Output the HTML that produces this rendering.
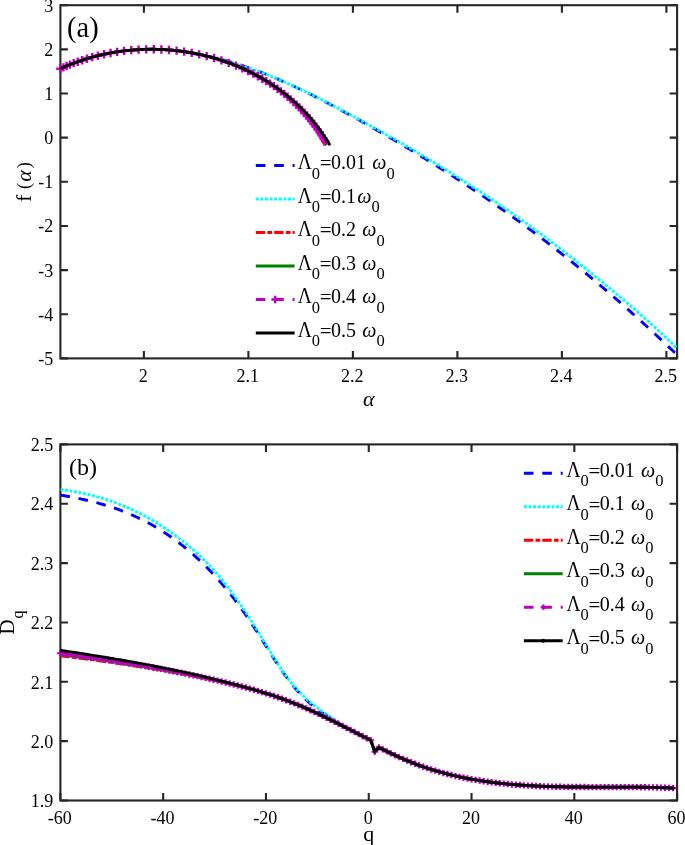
<!DOCTYPE html>
<html><head><meta charset="utf-8"><title>f(alpha) and Dq</title>
<style>html,body{margin:0;padding:0;background:#fff;}svg{display:block;}text{white-space:pre;}</style>
</head><body>
<svg width="685" height="845" viewBox="0 0 685 845">
<rect width="685" height="845" fill="#fff"/>
<defs><clipPath id="ca"><rect x="60.4" y="5.2" width="616.7" height="353.2"/></clipPath>
<clipPath id="ca2"><rect x="185" y="5.2" width="492.1" height="353.2"/></clipPath>
<clipPath id="cb"><rect x="60.4" y="444.4" width="616.7" height="356.1"/></clipPath></defs>
<rect x="60.40" y="5.20" width="616.70" height="353.20" fill="none" stroke="#262626" stroke-width="2.1"/>
<path d="M143.90 358.40v-7.5M143.90 5.20v7.5M248.40 358.40v-7.5M248.40 5.20v7.5M352.90 358.40v-7.5M352.90 5.20v7.5M457.40 358.40v-7.5M457.40 5.20v7.5M561.90 358.40v-7.5M561.90 5.20v7.5M666.40 358.40v-7.5M666.40 5.20v7.5M60.40 5.20h7.5M677.10 5.20h-7.5M60.40 49.35h7.5M677.10 49.35h-7.5M60.40 93.50h7.5M677.10 93.50h-7.5M60.40 137.65h7.5M677.10 137.65h-7.5M60.40 181.80h7.5M677.10 181.80h-7.5M60.40 225.95h7.5M677.10 225.95h-7.5M60.40 270.10h7.5M677.10 270.10h-7.5M60.40 314.25h7.5M677.10 314.25h-7.5M60.40 358.40h7.5M677.10 358.40h-7.5" stroke="#262626" stroke-width="2.1" fill="none"/>

<rect x="60.40" y="444.40" width="616.70" height="356.10" fill="none" stroke="#262626" stroke-width="2.1"/>
<path d="M60.40 800.50v-7.5M60.40 444.40v7.5M163.18 800.50v-7.5M163.18 444.40v7.5M265.97 800.50v-7.5M265.97 444.40v7.5M368.75 800.50v-7.5M368.75 444.40v7.5M471.53 800.50v-7.5M471.53 444.40v7.5M574.32 800.50v-7.5M574.32 444.40v7.5M677.10 800.50v-7.5M677.10 444.40v7.5M60.40 444.40h7.5M677.10 444.40h-7.5M60.40 503.75h7.5M677.10 503.75h-7.5M60.40 563.10h7.5M677.10 563.10h-7.5M60.40 622.45h7.5M677.10 622.45h-7.5M60.40 681.80h7.5M677.10 681.80h-7.5M60.40 741.15h7.5M677.10 741.15h-7.5M60.40 800.50h7.5M677.10 800.50h-7.5" stroke="#262626" stroke-width="2.1" fill="none"/>

<g clip-path="url(#ca2)">
<path d="M60.40 68.65 L62.04 67.91 L63.69 67.19 L65.35 66.48 L67.01 65.79 L68.68 65.12 L70.36 64.46 L72.03 63.81 L73.72 63.18 L75.41 62.57 L77.10 61.97 L78.80 61.39 L80.50 60.82 L82.21 60.27 L83.92 59.74 L85.64 59.21 L87.36 58.71 L89.09 58.22 L90.81 57.74 L92.55 57.28 L94.28 56.83 L96.02 56.40 L97.76 55.98 L99.51 55.58 L101.26 55.19 L103.01 54.81 L104.77 54.45 L106.52 54.11 L108.28 53.77 L110.05 53.46 L111.81 53.15 L113.58 52.87 L115.35 52.59 L117.12 52.33 L118.89 52.08 L120.67 51.85 L122.44 51.63 L124.22 51.42 L126.00 51.23 L127.78 51.05 L129.56 50.89 L131.34 50.74 L133.12 50.60 L134.91 50.48 L136.69 50.36 L138.47 50.27 L140.26 50.18 L142.04 50.11 L143.82 50.05 L145.61 50.00 L147.39 49.97 L149.18 49.95 L150.96 49.95 L152.74 49.95 L154.52 49.97 L156.30 50.00 L158.08 50.04 L159.86 50.10 L161.63 50.17 L163.41 50.25 L165.18 50.34 L166.95 50.45 L168.72 50.57 L170.49 50.70 L172.26 50.84 L174.02 50.99 L175.78 51.16 L177.54 51.34 L179.30 51.53 L181.05 51.73 L182.81 51.94 L184.56 52.17 L186.31 52.40 L188.06 52.65 L189.80 52.90 L191.54 53.17 L193.28 53.45 L195.02 53.74 L196.76 54.04 L198.49 54.36 L200.23 54.68 L201.96 55.01 L203.69 55.35 L205.41 55.71 L207.14 56.07 L208.86 56.44 L210.58 56.83 L212.30 57.22 L214.02 57.62 L215.73 58.04 L217.45 58.46 L219.16 58.89 L220.87 59.33 L222.57 59.78 L224.28 60.24 L225.98 60.71 L227.69 61.18 L229.38 61.67 L231.08 62.17 L232.78 62.67 L234.47 63.18 L236.17 63.70 L237.86 64.23 L239.54 64.77 L241.23 65.31 L242.92 65.86 L244.60 66.43 L246.28 66.99 L247.96 67.57 L249.64 68.16 L251.31 68.75 L252.99 69.35 L254.66 69.95 L256.33 70.57 L258.00 71.19 L259.66 71.82 L261.33 72.45 L262.99 73.09 L264.65 73.74 L266.31 74.40 L267.97 75.06 L269.63 75.73 L271.28 76.41 L272.94 77.09 L274.59 77.77 L276.24 78.47 L277.88 79.17 L279.53 79.87 L281.18 80.58 L282.82 81.30 L284.46 82.02 L286.10 82.75 L287.74 83.48 L289.37 84.22 L291.01 84.97 L292.64 85.72 L294.27 86.47 L295.90 87.23 L297.53 87.99 L299.15 88.76 L300.78 89.53 L302.40 90.31 L304.02 91.09 L305.64 91.88 L307.26 92.67 L308.88 93.46 L310.49 94.26 L312.11 95.06 L313.72 95.87 L315.33 96.68 L316.94 97.49 L318.55 98.31 L320.15 99.13 L321.76 99.96 L323.36 100.78 L324.96 101.61 L326.56 102.45 L328.16 103.28 L329.75 104.12 L331.35 104.96 L332.94 105.81 L334.54 106.65 L336.13 107.50 L337.72 108.36 L339.30 109.21 L340.89 110.07 L342.48 110.92 L344.06 111.78 L345.64 112.65 L347.22 113.51 L348.80 114.38 L350.38 115.24 L351.96 116.11 L353.53 116.98 L355.11 117.85 L356.68 118.72 L358.25 119.60 L359.82 120.47 L361.39 121.35 L362.96 122.22 L364.52 123.10 L366.09 123.98 L367.65 124.86 L369.21 125.74 L370.77 126.62 L372.33 127.51 L373.89 128.39 L375.44 129.28 L377.00 130.16 L378.55 131.05 L380.10 131.94 L381.65 132.83 L383.20 133.73 L384.75 134.62 L386.30 135.51 L387.84 136.41 L389.39 137.31 L390.93 138.21 L392.47 139.10 L394.01 140.01 L395.55 140.91 L397.09 141.81 L398.63 142.72 L400.16 143.62 L401.70 144.53 L403.23 145.44 L404.76 146.35 L406.29 147.26 L407.82 148.18 L409.35 149.09 L410.87 150.01 L412.40 150.93 L413.92 151.85 L415.44 152.77 L416.96 153.69 L418.48 154.61 L420.00 155.54 L421.52 156.47 L423.03 157.39 L424.55 158.32 L426.06 159.25 L427.57 160.19 L429.09 161.12 L430.60 162.06 L432.10 163.00 L433.61 163.93 L435.12 164.88 L436.62 165.82 L438.13 166.76 L439.63 167.71 L441.13 168.65 L442.63 169.60 L444.13 170.55 L445.62 171.50 L447.12 172.46 L448.62 173.41 L450.11 174.37 L451.60 175.33 L453.09 176.29 L454.58 177.25 L456.07 178.22 L457.56 179.18 L459.05 180.15 L460.53 181.12 L462.02 182.09 L463.50 183.06 L464.98 184.04 L466.46 185.01 L467.94 185.99 L469.42 186.97 L470.90 187.95 L472.37 188.93 L473.85 189.92 L475.32 190.91 L476.79 191.89 L478.26 192.89 L479.73 193.88 L481.20 194.87 L482.67 195.87 L484.14 196.87 L485.60 197.87 L487.07 198.87 L488.53 199.87 L489.99 200.88 L491.45 201.89 L492.91 202.90 L494.37 203.91 L495.83 204.92 L497.28 205.94 L498.74 206.96 L500.19 207.98 L501.65 209.00 L503.10 210.02 L504.55 211.05 L506.00 212.08 L507.45 213.11 L508.90 214.14 L510.34 215.17 L511.79 216.21 L513.23 217.25 L514.67 218.29 L516.12 219.33 L517.56 220.38 L519.00 221.42 L520.44 222.47 L521.87 223.52 L523.31 224.58 L524.75 225.63 L526.18 226.69 L527.61 227.75 L529.05 228.81 L530.48 229.87 L531.91 230.94 L533.34 232.01 L534.76 233.08 L536.19 234.15 L537.62 235.23 L539.04 236.30 L540.46 237.38 L541.89 238.46 L543.31 239.55 L544.73 240.63 L546.15 241.72 L547.56 242.81 L548.98 243.90 L550.40 244.99 L551.81 246.09 L553.22 247.19 L554.64 248.29 L556.05 249.39 L557.46 250.49 L558.86 251.60 L560.27 252.70 L561.68 253.81 L563.08 254.92 L564.48 256.03 L565.89 257.15 L567.29 258.27 L568.69 259.38 L570.08 260.50 L571.48 261.63 L572.88 262.75 L574.27 263.88 L575.66 265.00 L577.05 266.13 L578.44 267.26 L579.83 268.39 L581.22 269.53 L582.61 270.67 L583.99 271.80 L585.37 272.94 L586.76 274.08 L588.14 275.23 L589.52 276.37 L590.89 277.52 L592.27 278.66 L593.65 279.81 L595.02 280.97 L596.39 282.12 L597.76 283.27 L599.13 284.43 L600.50 285.59 L601.87 286.74 L603.23 287.90 L604.59 289.07 L605.96 290.23 L607.32 291.40 L608.68 292.56 L610.03 293.73 L611.39 294.90 L612.74 296.07 L614.10 297.24 L615.45 298.42 L616.80 299.59 L618.15 300.77 L619.49 301.95 L620.84 303.13 L622.18 304.31 L623.53 305.49 L624.87 306.67 L626.20 307.86 L627.54 309.04 L628.88 310.23 L630.21 311.42 L631.54 312.61 L632.88 313.80 L634.20 314.99 L635.53 316.19 L636.86 317.38 L638.18 318.58 L639.51 319.78 L640.83 320.97 L642.15 322.17 L643.46 323.38 L644.78 324.58 L646.09 325.78 L647.41 326.99 L648.72 328.19 L650.03 329.40 L651.33 330.61 L652.64 331.82 L653.94 333.03 L655.25 334.24 L656.55 335.45 L657.85 336.66 L659.14 337.88 L660.44 339.09 L661.73 340.31 L663.02 341.53 L664.31 342.74 L665.60 343.96 L666.89 345.18 L668.17 346.40 L669.45 347.63 L670.73 348.85 L672.01 350.07 L673.29 351.30 L674.57 352.52 L675.84 353.75 L677.11 354.98" fill="none" stroke="#0000ff" stroke-width="2.90" stroke-dasharray="9.6 8.8" stroke-linejoin="miter" stroke-linecap="butt"/>

<path d="M60.38 68.65 L62.04 67.91 L63.69 67.19 L65.35 66.48 L67.02 65.79 L68.69 65.11 L70.36 64.45 L72.04 63.80 L73.73 63.17 L75.42 62.56 L77.11 61.96 L78.80 61.38 L80.50 60.81 L82.21 60.26 L83.92 59.72 L85.63 59.20 L87.34 58.69 L89.06 58.20 L90.78 57.72 L92.51 57.26 L94.24 56.81 L95.97 56.38 L97.70 55.96 L99.44 55.56 L101.18 55.17 L102.92 54.80 L104.66 54.44 L106.41 54.10 L108.16 53.76 L109.91 53.45 L111.66 53.15 L113.41 52.86 L115.17 52.58 L116.93 52.32 L118.69 52.08 L120.45 51.85 L122.21 51.63 L123.97 51.42 L125.74 51.23 L127.50 51.06 L129.27 50.89 L131.03 50.74 L132.80 50.60 L134.57 50.48 L136.33 50.37 L138.10 50.27 L139.87 50.19 L141.64 50.12 L143.41 50.06 L145.17 50.01 L146.94 49.98 L148.71 49.96 L150.47 49.95 L152.24 49.96 L154.01 49.98 L155.77 50.01 L157.53 50.05 L159.30 50.11 L161.06 50.17 L162.82 50.25 L164.57 50.35 L166.33 50.45 L168.09 50.57 L169.84 50.69 L171.59 50.83 L173.34 50.99 L175.09 51.15 L176.83 51.32 L178.58 51.51 L180.32 51.71 L182.06 51.92 L183.80 52.14 L185.53 52.37 L187.27 52.61 L189.00 52.87 L190.73 53.13 L192.46 53.41 L194.19 53.69 L195.91 53.99 L197.64 54.29 L199.36 54.61 L201.08 54.94 L202.80 55.28 L204.51 55.62 L206.23 55.98 L207.94 56.35 L209.65 56.72 L211.36 57.11 L213.07 57.51 L214.77 57.91 L216.48 58.33 L218.18 58.75 L219.88 59.18 L221.58 59.63 L223.28 60.08 L224.97 60.54 L226.66 61.01 L228.36 61.48 L230.05 61.97 L231.73 62.46 L233.42 62.97 L235.11 63.48 L236.79 64.00 L238.47 64.53 L240.15 65.06 L241.83 65.60 L243.51 66.16 L245.18 66.71 L246.85 67.28 L248.52 67.85 L250.19 68.44 L251.86 69.02 L253.53 69.62 L255.19 70.22 L256.86 70.83 L258.52 71.45 L260.18 72.07 L261.84 72.70 L263.49 73.34 L265.15 73.98 L266.80 74.63 L268.45 75.29 L270.10 75.95 L271.75 76.62 L273.40 77.30 L275.05 77.98 L276.69 78.66 L278.33 79.35 L279.97 80.05 L281.61 80.76 L283.25 81.46 L284.89 82.18 L286.52 82.90 L288.15 83.62 L289.79 84.35 L291.42 85.09 L293.04 85.83 L294.67 86.57 L296.30 87.32 L297.92 88.07 L299.54 88.83 L301.16 89.59 L302.78 90.36 L304.40 91.13 L306.02 91.90 L307.63 92.68 L309.25 93.47 L310.86 94.25 L312.47 95.04 L314.08 95.84 L315.69 96.63 L317.29 97.43 L318.90 98.24 L320.50 99.04 L322.10 99.85 L323.70 100.67 L325.30 101.48 L326.90 102.30 L328.50 103.12 L330.09 103.95 L331.69 104.77 L333.28 105.60 L334.87 106.44 L336.46 107.27 L338.05 108.10 L339.63 108.94 L341.22 109.78 L342.80 110.62 L344.39 111.47 L345.97 112.31 L347.55 113.16 L349.13 114.01 L350.70 114.86 L352.28 115.71 L353.86 116.56 L355.43 117.41 L357.00 118.27 L358.57 119.12 L360.14 119.98 L361.71 120.83 L363.28 121.69 L364.84 122.55 L366.41 123.41 L367.97 124.27 L369.53 125.13 L371.09 125.99 L372.65 126.86 L374.21 127.72 L375.77 128.59 L377.32 129.45 L378.87 130.32 L380.43 131.19 L381.98 132.06 L383.53 132.93 L385.08 133.80 L386.63 134.68 L388.17 135.55 L389.72 136.43 L391.26 137.30 L392.80 138.18 L394.35 139.06 L395.89 139.94 L397.42 140.82 L398.96 141.71 L400.50 142.59 L402.03 143.48 L403.57 144.36 L405.10 145.25 L406.63 146.14 L408.16 147.03 L409.69 147.92 L411.22 148.82 L412.74 149.71 L414.27 150.61 L415.79 151.51 L417.32 152.40 L418.84 153.30 L420.36 154.21 L421.88 155.11 L423.40 156.01 L424.91 156.92 L426.43 157.83 L427.94 158.74 L429.46 159.65 L430.97 160.56 L432.48 161.47 L433.99 162.39 L435.50 163.30 L437.00 164.22 L438.51 165.14 L440.01 166.06 L441.52 166.99 L443.02 167.91 L444.52 168.84 L446.02 169.76 L447.52 170.69 L449.02 171.62 L450.51 172.56 L452.01 173.49 L453.50 174.43 L455.00 175.36 L456.49 176.30 L457.98 177.24 L459.47 178.19 L460.96 179.13 L462.44 180.08 L463.93 181.03 L465.42 181.98 L466.90 182.93 L468.38 183.88 L469.86 184.84 L471.34 185.79 L472.82 186.75 L474.30 187.71 L475.78 188.68 L477.25 189.64 L478.73 190.61 L480.20 191.58 L481.67 192.55 L483.14 193.52 L484.61 194.49 L486.08 195.47 L487.55 196.45 L489.02 197.43 L490.48 198.41 L491.95 199.39 L493.41 200.38 L494.87 201.37 L496.33 202.36 L497.79 203.35 L499.25 204.34 L500.71 205.34 L502.17 206.34 L503.62 207.34 L505.08 208.34 L506.53 209.35 L507.98 210.35 L509.44 211.36 L510.89 212.37 L512.33 213.39 L513.78 214.40 L515.23 215.42 L516.67 216.44 L518.12 217.46 L519.56 218.49 L521.01 219.51 L522.45 220.54 L523.89 221.57 L525.33 222.61 L526.77 223.64 L528.20 224.68 L529.64 225.72 L531.07 226.77 L532.51 227.81 L533.94 228.86 L535.37 229.91 L536.80 230.96 L538.23 232.01 L539.66 233.07 L541.09 234.13 L542.52 235.19 L543.94 236.25 L545.37 237.31 L546.79 238.38 L548.21 239.45 L549.63 240.52 L551.05 241.59 L552.47 242.66 L553.89 243.74 L555.30 244.82 L556.72 245.90 L558.13 246.98 L559.55 248.06 L560.96 249.15 L562.37 250.24 L563.78 251.33 L565.19 252.42 L566.59 253.51 L568.00 254.60 L569.41 255.70 L570.81 256.80 L572.21 257.90 L573.61 259.00 L575.01 260.10 L576.41 261.21 L577.81 262.31 L579.21 263.42 L580.60 264.53 L582.00 265.64 L583.39 266.75 L584.78 267.86 L586.17 268.98 L587.56 270.10 L588.95 271.21 L590.34 272.33 L591.72 273.45 L593.11 274.57 L594.49 275.70 L595.87 276.82 L597.25 277.95 L598.63 279.08 L600.01 280.20 L601.39 281.33 L602.76 282.46 L604.14 283.60 L605.51 284.73 L606.88 285.86 L608.25 287.00 L609.62 288.14 L610.99 289.27 L612.36 290.41 L613.72 291.55 L615.09 292.69 L616.45 293.84 L617.81 294.98 L619.17 296.12 L620.53 297.27 L621.89 298.42 L623.24 299.57 L624.60 300.72 L625.95 301.87 L627.30 303.02 L628.65 304.18 L629.99 305.33 L631.34 306.49 L632.68 307.65 L634.02 308.81 L635.36 309.97 L636.70 311.14 L638.04 312.30 L639.37 313.47 L640.70 314.64 L642.03 315.81 L643.36 316.99 L644.69 318.16 L646.01 319.34 L647.34 320.51 L648.66 321.69 L649.97 322.88 L651.29 324.06 L652.60 325.25 L653.91 326.43 L655.22 327.62 L656.53 328.82 L657.83 330.01 L659.14 331.21 L660.44 332.40 L661.73 333.60 L663.03 334.81 L664.32 336.01 L665.61 337.22 L666.90 338.43 L668.18 339.64 L669.47 340.85 L670.75 342.07 L672.02 343.29 L673.30 344.51 L674.57 345.73 L675.84 346.96 L677.11 348.18" fill="none" stroke="#00ffff" stroke-width="2.90" stroke-dasharray="3 1.6" stroke-linejoin="miter" stroke-linecap="butt"/>

</g>
<path d="M60.42 68.68 L61.12 68.36 L61.82 68.04 L62.52 67.73 L63.23 67.42 L63.94 67.11 L64.64 66.81 L65.35 66.50 L66.06 66.20 L66.77 65.90 L67.48 65.61 L68.20 65.32 L68.91 65.03 L69.62 64.74 L70.34 64.46 L71.06 64.18 L71.77 63.90 L72.49 63.62 L73.21 63.35 L73.93 63.08 L74.65 62.81 L75.38 62.54 L76.10 62.28 L76.82 62.02 L77.55 61.76 L78.28 61.51 L79.00 61.25 L79.73 61.00 L80.46 60.76 L81.19 60.51 L81.92 60.27 L82.65 60.03 L83.38 59.80 L84.11 59.56 L84.85 59.33 L85.58 59.10 L86.32 58.88 L87.05 58.65 L87.79 58.43 L88.53 58.21 L89.26 58.00 L90.00 57.79 L90.74 57.58 L91.48 57.37 L92.22 57.17 L92.97 56.96 L93.71 56.76 L94.45 56.57 L95.20 56.37 L95.94 56.18 L96.69 55.99 L97.43 55.81 L98.18 55.62 L98.92 55.44 L99.67 55.26 L100.42 55.09 L101.17 54.92 L101.92 54.75 L102.67 54.58 L103.42 54.41 L104.17 54.25 L104.92 54.09 L105.67 53.93 L106.43 53.78 L107.18 53.63 L107.93 53.48 L108.69 53.33 L109.44 53.19 L110.20 53.05 L110.96 52.91 L111.71 52.77 L112.47 52.64 L113.23 52.51 L113.98 52.38 L114.74 52.25 L115.50 52.13 L116.26 52.01 L117.02 51.89 L117.78 51.78 L118.54 51.66 L119.30 51.55 L120.06 51.45 L120.82 51.34 L121.58 51.24 L122.34 51.14 L123.11 51.04 L123.87 50.95 L124.63 50.86 L125.39 50.77 L126.16 50.68 L126.92 50.60 L127.69 50.51 L128.45 50.44 L129.21 50.36 L129.98 50.29 L130.74 50.22 L131.51 50.15 L132.27 50.08 L133.04 50.02 L133.81 49.96 L134.57 49.90 L135.34 49.84 L136.10 49.79 L136.87 49.74 L137.64 49.69 L138.41 49.65 L139.17 49.61 L139.94 49.57 L140.71 49.53 L141.47 49.50 L142.24 49.46 L143.01 49.43 L143.78 49.41 L144.54 49.38 L145.31 49.36 L146.08 49.34 L146.85 49.33 L147.61 49.31 L148.38 49.30 L149.15 49.29 L149.92 49.29 L150.69 49.28 L151.45 49.28 L152.22 49.28 L152.99 49.29 L153.76 49.29 L154.52 49.30 L155.29 49.31 L156.06 49.33 L156.83 49.35 L157.59 49.37 L158.36 49.39 L159.13 49.41 L159.90 49.44 L160.66 49.47 L161.43 49.50 L162.20 49.54 L162.96 49.57 L163.73 49.61 L164.50 49.66 L165.26 49.70 L166.03 49.75 L166.79 49.80 L167.56 49.85 L168.32 49.91 L169.09 49.97 L169.85 50.03 L170.62 50.09 L171.38 50.16 L172.14 50.22 L172.91 50.30 L173.67 50.37 L174.43 50.44 L175.20 50.52 L175.96 50.60 L176.72 50.69 L177.48 50.77 L178.24 50.86 L179.01 50.95 L179.77 51.05 L180.53 51.14 L181.29 51.24 L182.05 51.34 L182.80 51.45 L183.56 51.55 L184.32 51.66 L185.08 51.77 L185.84 51.89 L186.59 52.01 L187.35 52.12 L188.11 52.25 L188.86 52.37 L189.62 52.50 L190.37 52.63 L191.13 52.76 L191.88 52.89 L192.63 53.03 L193.38 53.17 L194.14 53.31 L194.89 53.46 L195.64 53.60 L196.39 53.75 L197.14 53.90 L197.89 54.06 L198.64 54.22 L199.38 54.38 L200.13 54.54 L200.88 54.70 L201.62 54.87 L202.37 55.04 L203.11 55.21 L203.86 55.39 L204.60 55.56 L205.34 55.74 L206.09 55.93 L206.83 56.11 L207.57 56.30 L208.31 56.49 L209.05 56.68 L209.79 56.88 L210.52 57.07 L211.26 57.27 L212.00 57.48 L212.73 57.68 L213.47 57.89 L214.20 58.10 L214.93 58.31 L215.67 58.53 L216.40 58.74 L217.13 58.96 L217.86 59.19 L218.59 59.41 L219.31 59.64 L220.04 59.87 L220.77 60.10 L221.49 60.34 L222.22 60.57 L222.94 60.81 L223.66 61.06 L224.39 61.30 L225.11 61.55 L225.83 61.80 L226.55 62.05 L227.26 62.31 L227.98 62.57 L228.70 62.83 L229.41 63.09 L230.13 63.35 L230.84 63.62 L231.55 63.89 L232.26 64.16 L232.97 64.44 L233.68 64.71 L234.39 64.99 L235.09 65.28 L235.80 65.56 L236.51 65.85 L237.21 66.14 L237.91 66.43 L238.61 66.73 L239.31 67.02 L240.01 67.32 L240.70 67.63 L241.39 67.93 L242.08 68.24 L242.76 68.55 L243.45 68.86 L244.13 69.17 L244.81 69.49 L245.49 69.81 L246.17 70.13 L246.84 70.46 L247.51 70.78 L248.18 71.11 L248.85 71.45 L249.52 71.78 L250.19 72.12 L250.85 72.46 L251.52 72.80 L252.18 73.14 L252.84 73.49 L253.49 73.84 L254.15 74.19 L254.80 74.54 L255.45 74.90 L256.10 75.26 L256.75 75.62 L257.40 75.98 L258.05 76.35 L258.69 76.72 L259.33 77.09 L259.97 77.46 L260.61 77.84 L261.25 78.22 L261.88 78.60 L262.51 78.98 L263.15 79.37 L263.78 79.76 L264.40 80.15 L265.03 80.54 L265.65 80.94 L266.28 81.34 L266.90 81.74 L267.51 82.14 L268.13 82.55 L268.75 82.95 L269.36 83.36 L269.97 83.78 L270.58 84.19 L271.19 84.61 L271.80 85.03 L272.40 85.45 L273.00 85.88 L273.60 86.31 L274.20 86.74 L274.80 87.17 L275.39 87.60 L275.98 88.04 L276.58 88.48 L277.16 88.92 L277.75 89.37 L278.34 89.81 L278.92 90.26 L279.50 90.71 L280.08 91.17 L280.66 91.62 L281.23 92.08 L281.81 92.55 L282.38 93.01 L282.95 93.48 L283.51 93.94 L284.08 94.42 L284.64 94.89 L285.20 95.36 L285.76 95.84 L286.32 96.32 L286.88 96.81 L287.43 97.29 L287.98 97.78 L288.53 98.27 L289.08 98.76 L289.62 99.26 L290.16 99.76 L290.71 100.26 L291.24 100.76 L291.78 101.26 L292.32 101.77 L292.85 102.28 L293.38 102.79 L293.91 103.31 L294.43 103.83 L294.95 104.35 L295.48 104.87 L296.00 105.39 L296.51 105.92 L297.03 106.45 L297.54 106.98 L298.05 107.51 L298.56 108.05 L299.06 108.59 L299.57 109.13 L300.07 109.67 L300.57 110.22 L301.07 110.76 L301.56 111.32 L302.05 111.87 L302.54 112.42 L303.03 112.98 L303.52 113.54 L304.00 114.10 L304.48 114.67 L304.96 115.24 L305.44 115.81 L305.91 116.38 L306.38 116.95 L306.85 117.53 L307.32 118.11 L307.78 118.69 L308.24 119.27 L308.70 119.86 L309.16 120.45 L309.62 121.04 L310.07 121.63 L310.52 122.23 L310.96 122.83 L311.41 123.43 L311.85 124.03 L312.29 124.64 L312.73 125.24 L313.16 125.85 L313.60 126.47 L314.03 127.08 L314.46 127.70 L314.88 128.32 L315.30 128.94 L315.72 129.56 L316.14 130.19 L316.55 130.82 L316.97 131.45 L317.38 132.08 L317.78 132.72 L318.19 133.36 L318.59 134.00 L318.99 134.64 L319.39 135.29 L319.78 135.94 L320.17 136.59 L320.56 137.24 L320.95 137.89 L321.33 138.55 L321.71 139.21 L322.09 139.87 L322.46 140.54 L322.84 141.20 L323.21 141.87 L323.57 142.54 L323.94 143.22 L324.30 143.89 L324.66 144.57 L325.02 145.25" fill="none" stroke="#ff0000" stroke-width="2.90" stroke-dasharray="9.4 2.2 4.8 2.0" stroke-linejoin="miter" stroke-linecap="butt"/>

<path d="M60.42 68.68 L61.12 68.36 L61.82 68.04 L62.52 67.73 L63.23 67.42 L63.94 67.11 L64.64 66.81 L65.35 66.50 L66.06 66.20 L66.77 65.90 L67.48 65.61 L68.20 65.32 L68.91 65.03 L69.62 64.74 L70.34 64.46 L71.06 64.18 L71.77 63.90 L72.49 63.62 L73.21 63.35 L73.93 63.08 L74.65 62.81 L75.38 62.54 L76.10 62.28 L76.82 62.02 L77.55 61.76 L78.28 61.51 L79.00 61.25 L79.73 61.00 L80.46 60.76 L81.19 60.51 L81.92 60.27 L82.65 60.03 L83.38 59.80 L84.11 59.56 L84.85 59.33 L85.58 59.10 L86.32 58.88 L87.05 58.65 L87.79 58.43 L88.53 58.21 L89.26 58.00 L90.00 57.79 L90.74 57.58 L91.48 57.37 L92.22 57.17 L92.97 56.96 L93.71 56.76 L94.45 56.57 L95.20 56.37 L95.94 56.18 L96.69 55.99 L97.43 55.81 L98.18 55.62 L98.92 55.44 L99.67 55.26 L100.42 55.09 L101.17 54.92 L101.92 54.75 L102.67 54.58 L103.42 54.41 L104.17 54.25 L104.92 54.09 L105.67 53.93 L106.43 53.78 L107.18 53.63 L107.93 53.48 L108.69 53.33 L109.44 53.19 L110.20 53.05 L110.96 52.91 L111.71 52.77 L112.47 52.64 L113.23 52.51 L113.98 52.38 L114.74 52.25 L115.50 52.13 L116.26 52.01 L117.02 51.89 L117.78 51.78 L118.54 51.66 L119.30 51.55 L120.06 51.45 L120.82 51.34 L121.58 51.24 L122.34 51.14 L123.11 51.04 L123.87 50.95 L124.63 50.86 L125.39 50.77 L126.16 50.68 L126.92 50.60 L127.69 50.51 L128.45 50.44 L129.21 50.36 L129.98 50.29 L130.74 50.22 L131.51 50.15 L132.27 50.08 L133.04 50.02 L133.81 49.96 L134.57 49.90 L135.34 49.84 L136.10 49.79 L136.87 49.74 L137.64 49.69 L138.41 49.65 L139.17 49.61 L139.94 49.57 L140.71 49.53 L141.47 49.50 L142.24 49.46 L143.01 49.43 L143.78 49.41 L144.54 49.38 L145.31 49.36 L146.08 49.34 L146.85 49.33 L147.61 49.31 L148.38 49.30 L149.15 49.29 L149.92 49.29 L150.69 49.28 L151.45 49.28 L152.22 49.28 L152.99 49.29 L153.76 49.29 L154.52 49.30 L155.29 49.31 L156.06 49.33 L156.83 49.35 L157.59 49.37 L158.36 49.39 L159.13 49.41 L159.90 49.44 L160.66 49.47 L161.43 49.50 L162.20 49.54 L162.96 49.57 L163.73 49.61 L164.50 49.66 L165.26 49.70 L166.03 49.75 L166.79 49.80 L167.56 49.85 L168.32 49.91 L169.09 49.97 L169.85 50.03 L170.62 50.09 L171.38 50.16 L172.14 50.22 L172.91 50.30 L173.67 50.37 L174.43 50.44 L175.20 50.52 L175.96 50.60 L176.72 50.69 L177.48 50.77 L178.24 50.86 L179.01 50.95 L179.77 51.05 L180.53 51.14 L181.29 51.24 L182.05 51.34 L182.80 51.45 L183.56 51.55 L184.32 51.66 L185.08 51.77 L185.84 51.89 L186.59 52.01 L187.35 52.12 L188.11 52.25 L188.86 52.37 L189.62 52.50 L190.37 52.63 L191.13 52.76 L191.88 52.89 L192.63 53.03 L193.38 53.17 L194.14 53.31 L194.89 53.46 L195.64 53.60 L196.39 53.75 L197.14 53.90 L197.89 54.06 L198.64 54.22 L199.38 54.38 L200.13 54.54 L200.88 54.70 L201.62 54.87 L202.37 55.04 L203.11 55.21 L203.86 55.39 L204.60 55.56 L205.34 55.74 L206.09 55.93 L206.83 56.11 L207.57 56.30 L208.31 56.49 L209.05 56.68 L209.79 56.88 L210.52 57.07 L211.26 57.27 L212.00 57.48 L212.73 57.68 L213.47 57.89 L214.20 58.10 L214.93 58.31 L215.67 58.53 L216.40 58.74 L217.13 58.96 L217.86 59.19 L218.59 59.41 L219.31 59.64 L220.04 59.87 L220.77 60.10 L221.49 60.34 L222.22 60.57 L222.94 60.81 L223.66 61.06 L224.39 61.30 L225.11 61.55 L225.83 61.80 L226.55 62.05 L227.26 62.31 L227.98 62.57 L228.70 62.83 L229.41 63.09 L230.13 63.35 L230.84 63.62 L231.55 63.89 L232.26 64.16 L232.97 64.44 L233.68 64.71 L234.39 64.99 L235.09 65.28 L235.80 65.56 L236.51 65.85 L237.21 66.14 L237.91 66.43 L238.61 66.73 L239.31 67.02 L240.01 67.32 L240.70 67.63 L241.39 67.93 L242.08 68.24 L242.77 68.55 L243.46 68.86 L244.15 69.17 L244.83 69.49 L245.51 69.81 L246.19 70.13 L246.87 70.46 L247.55 70.78 L248.22 71.11 L248.90 71.45 L249.57 71.78 L250.24 72.12 L250.91 72.46 L251.57 72.80 L252.24 73.14 L252.90 73.49 L253.57 73.84 L254.23 74.19 L254.89 74.54 L255.55 74.90 L256.20 75.26 L256.86 75.62 L257.51 75.98 L258.16 76.35 L258.81 76.72 L259.46 77.09 L260.10 77.46 L260.75 77.84 L261.39 78.22 L262.03 78.60 L262.67 78.98 L263.31 79.37 L263.95 79.76 L264.58 80.15 L265.21 80.54 L265.85 80.94 L266.48 81.34 L267.10 81.74 L267.73 82.14 L268.35 82.55 L268.98 82.95 L269.60 83.36 L270.22 83.78 L270.83 84.19 L271.45 84.61 L272.06 85.03 L272.67 85.45 L273.29 85.88 L273.89 86.31 L274.50 86.74 L275.11 87.17 L275.71 87.60 L276.31 88.04 L276.91 88.48 L277.51 88.92 L278.10 89.37 L278.70 89.81 L279.29 90.26 L279.88 90.71 L280.47 91.17 L281.05 91.62 L281.64 92.08 L282.22 92.55 L282.80 93.01 L283.38 93.48 L283.96 93.94 L284.53 94.42 L285.10 94.89 L285.67 95.36 L286.24 95.84 L286.81 96.32 L287.38 96.81 L287.94 97.29 L288.50 97.78 L289.06 98.27 L289.62 98.76 L290.17 99.26 L290.72 99.76 L291.27 100.26 L291.82 100.76 L292.37 101.26 L292.91 101.77 L293.46 102.28 L294.00 102.79 L294.54 103.31 L295.07 103.83 L295.61 104.35 L296.14 104.87 L296.67 105.39 L297.20 105.92 L297.72 106.45 L298.25 106.98 L298.77 107.51 L299.29 108.05 L299.80 108.59 L300.32 109.13 L300.83 109.67 L301.34 110.22 L301.85 110.76 L302.36 111.32 L302.86 111.87 L303.36 112.42 L303.86 112.98 L304.36 113.54 L304.85 114.10 L305.35 114.67 L305.84 115.24 L306.32 115.81 L306.81 116.38 L307.29 116.95 L307.78 117.53 L308.25 118.11 L308.73 118.69 L309.20 119.27 L309.68 119.86 L310.15 120.45 L310.61 121.04 L311.08 121.63 L311.54 122.23 L312.00 122.83 L312.46 123.43 L312.91 124.03 L313.36 124.64 L313.81 125.24 L314.26 125.85 L314.71 126.47 L315.15 127.08 L315.59 127.70 L316.03 128.32 L316.46 128.94 L316.90 129.56 L317.33 130.19 L317.76 130.82 L318.18 131.45 L318.60 132.08 L319.02 132.72 L319.44 133.36 L319.86 134.00 L320.27 134.64 L320.68 135.29 L321.09 135.94 L321.49 136.59 L321.89 137.24 L322.29 137.89 L322.69 138.55 L323.09 139.21 L323.48 139.87 L323.87 140.54 L324.25 141.20 L324.64 141.87 L325.02 142.54 L325.40 143.22 L325.77 143.89 L326.15 144.57 L326.52 145.25" fill="none" stroke="#007f00" stroke-width="2.90" stroke-linejoin="miter" stroke-linecap="butt"/>

<path d="M60.42 68.68 L61.12 68.36 L61.82 68.04 L62.52 67.73 L63.23 67.42 L63.94 67.11 L64.64 66.81 L65.35 66.50 L66.06 66.20 L66.77 65.90 L67.48 65.61 L68.20 65.32 L68.91 65.03 L69.62 64.74 L70.34 64.46 L71.06 64.18 L71.77 63.90 L72.49 63.62 L73.21 63.35 L73.93 63.08 L74.65 62.81 L75.38 62.54 L76.10 62.28 L76.82 62.02 L77.55 61.76 L78.28 61.51 L79.00 61.25 L79.73 61.00 L80.46 60.76 L81.19 60.51 L81.92 60.27 L82.65 60.03 L83.38 59.80 L84.11 59.56 L84.85 59.33 L85.58 59.10 L86.32 58.88 L87.05 58.65 L87.79 58.43 L88.53 58.21 L89.26 58.00 L90.00 57.79 L90.74 57.58 L91.48 57.37 L92.22 57.17 L92.97 56.96 L93.71 56.76 L94.45 56.57 L95.20 56.37 L95.94 56.18 L96.69 55.99 L97.43 55.81 L98.18 55.62 L98.92 55.44 L99.67 55.26 L100.42 55.09 L101.17 54.92 L101.92 54.75 L102.67 54.58 L103.42 54.41 L104.17 54.25 L104.92 54.09 L105.67 53.93 L106.43 53.78 L107.18 53.63 L107.93 53.48 L108.69 53.33 L109.44 53.19 L110.20 53.05 L110.96 52.91 L111.71 52.77 L112.47 52.64 L113.23 52.51 L113.98 52.38 L114.74 52.25 L115.50 52.13 L116.26 52.01 L117.02 51.89 L117.78 51.78 L118.54 51.66 L119.30 51.55 L120.06 51.45 L120.82 51.34 L121.58 51.24 L122.34 51.14 L123.11 51.04 L123.87 50.95 L124.63 50.86 L125.39 50.77 L126.16 50.68 L126.92 50.60 L127.69 50.51 L128.45 50.44 L129.21 50.36 L129.98 50.29 L130.74 50.22 L131.51 50.15 L132.27 50.08 L133.04 50.02 L133.81 49.96 L134.57 49.90 L135.34 49.84 L136.10 49.79 L136.87 49.74 L137.64 49.69 L138.41 49.65 L139.17 49.61 L139.94 49.57 L140.71 49.53 L141.47 49.50 L142.24 49.46 L143.01 49.43 L143.78 49.41 L144.54 49.38 L145.31 49.36 L146.08 49.34 L146.85 49.33 L147.61 49.31 L148.38 49.30 L149.15 49.29 L149.92 49.29 L150.69 49.28 L151.45 49.28 L152.22 49.28 L152.99 49.29 L153.76 49.29 L154.52 49.30 L155.29 49.31 L156.06 49.33 L156.83 49.35 L157.59 49.37 L158.36 49.39 L159.13 49.41 L159.90 49.44 L160.66 49.47 L161.43 49.50 L162.20 49.54 L162.96 49.57 L163.73 49.61 L164.50 49.66 L165.26 49.70 L166.03 49.75 L166.79 49.80 L167.56 49.85 L168.32 49.91 L169.09 49.97 L169.85 50.03 L170.62 50.09 L171.38 50.16 L172.14 50.22 L172.91 50.30 L173.67 50.37 L174.43 50.44 L175.20 50.52 L175.96 50.60 L176.72 50.69 L177.48 50.77 L178.24 50.86 L179.01 50.95 L179.77 51.05 L180.53 51.14 L181.29 51.24 L182.05 51.34 L182.80 51.45 L183.56 51.55 L184.32 51.66 L185.08 51.77 L185.84 51.89 L186.59 52.01 L187.35 52.12 L188.11 52.25 L188.86 52.37 L189.62 52.50 L190.37 52.63 L191.13 52.76 L191.88 52.89 L192.63 53.03 L193.38 53.17 L194.14 53.31 L194.89 53.46 L195.64 53.60 L196.39 53.75 L197.14 53.90 L197.89 54.06 L198.64 54.22 L199.38 54.38 L200.13 54.54 L200.88 54.70 L201.62 54.87 L202.37 55.04 L203.11 55.21 L203.86 55.39 L204.60 55.56 L205.34 55.74 L206.09 55.93 L206.83 56.11 L207.57 56.30 L208.31 56.49 L209.05 56.68 L209.79 56.88 L210.52 57.07 L211.26 57.27 L212.00 57.48 L212.73 57.68 L213.47 57.89 L214.20 58.10 L214.93 58.31 L215.67 58.53 L216.40 58.74 L217.13 58.96 L217.86 59.19 L218.59 59.41 L219.31 59.64 L220.04 59.87 L220.77 60.10 L221.49 60.34 L222.22 60.57 L222.94 60.81 L223.66 61.06 L224.39 61.30 L225.11 61.55 L225.83 61.80 L226.55 62.05 L227.26 62.31 L227.98 62.57 L228.70 62.83 L229.41 63.09 L230.13 63.35 L230.84 63.62 L231.55 63.89 L232.26 64.16 L232.97 64.44 L233.68 64.71 L234.39 64.99 L235.09 65.28 L235.80 65.56 L236.51 65.85 L237.21 66.14 L237.91 66.43 L238.61 66.73 L239.31 67.02 L240.01 67.32 L240.70 67.63 L241.40 67.93 L242.09 68.24 L242.78 68.55 L243.47 68.86 L244.16 69.17 L244.84 69.49 L245.53 69.81 L246.21 70.13 L246.89 70.46 L247.57 70.78 L248.25 71.11 L248.92 71.45 L249.60 71.78 L250.27 72.12 L250.94 72.46 L251.61 72.80 L252.28 73.14 L252.95 73.49 L253.62 73.84 L254.28 74.19 L254.94 74.54 L255.61 74.90 L256.27 75.26 L256.92 75.62 L257.58 75.98 L258.24 76.35 L258.89 76.72 L259.54 77.09 L260.19 77.46 L260.84 77.84 L261.49 78.22 L262.13 78.60 L262.78 78.98 L263.42 79.37 L264.06 79.76 L264.70 80.15 L265.34 80.54 L265.97 80.94 L266.61 81.34 L267.24 81.74 L267.87 82.14 L268.50 82.55 L269.13 82.95 L269.75 83.36 L270.38 83.78 L271.00 84.19 L271.62 84.61 L272.24 85.03 L272.86 85.45 L273.47 85.88 L274.09 86.31 L274.70 86.74 L275.31 87.17 L275.92 87.60 L276.53 88.04 L277.13 88.48 L277.73 88.92 L278.34 89.37 L278.94 89.81 L279.53 90.26 L280.13 90.71 L280.72 91.17 L281.32 91.62 L281.91 92.08 L282.50 92.55 L283.08 93.01 L283.67 93.48 L284.25 93.94 L284.83 94.42 L285.41 94.89 L285.99 95.36 L286.56 95.84 L287.14 96.32 L287.71 96.81 L288.28 97.29 L288.84 97.78 L289.41 98.27 L289.97 98.76 L290.54 99.26 L291.10 99.76 L291.65 100.26 L292.21 100.76 L292.76 101.26 L293.31 101.77 L293.86 102.28 L294.41 102.79 L294.96 103.31 L295.50 103.83 L296.04 104.35 L296.58 104.87 L297.12 105.39 L297.65 105.92 L298.19 106.45 L298.72 106.98 L299.25 107.51 L299.77 108.05 L300.30 108.59 L300.82 109.13 L301.34 109.67 L301.86 110.22 L302.37 110.76 L302.89 111.32 L303.40 111.87 L303.91 112.42 L304.42 112.98 L304.92 113.54 L305.42 114.10 L305.92 114.67 L306.42 115.24 L306.92 115.81 L307.41 116.38 L307.90 116.95 L308.39 117.53 L308.88 118.11 L309.36 118.69 L309.85 119.27 L310.33 119.86 L310.80 120.45 L311.28 121.04 L311.75 121.63 L312.22 122.23 L312.69 122.83 L313.16 123.43 L313.62 124.03 L314.08 124.64 L314.54 125.24 L314.99 125.85 L315.45 126.47 L315.90 127.08 L316.35 127.70 L316.79 128.32 L317.24 128.94 L317.68 129.56 L318.12 130.19 L318.56 130.82 L318.99 131.45 L319.42 132.08 L319.85 132.72 L320.28 133.36 L320.70 134.00 L321.12 134.64 L321.54 135.29 L321.96 135.94 L322.37 136.59 L322.78 137.24 L323.19 137.89 L323.60 138.55 L324.00 139.21 L324.40 139.87 L324.80 140.54 L325.20 141.20 L325.59 141.87 L325.98 142.54 L326.37 143.22" fill="none" stroke="#bf00bf" stroke-width="2.90" stroke-dasharray="9.6 8.8" stroke-linejoin="miter" stroke-linecap="butt"/>

<path d="M56.22 68.68h8.4M60.42 64.48v8.4M59.17 67.36h8.4M63.37 63.16v8.4M62.36 66.00h8.4M66.56 61.80v8.4M65.81 64.59h8.4M70.01 60.39v8.4M69.54 63.15h8.4M73.74 58.95v8.4M73.58 61.68h8.4M77.78 57.48v8.4M77.95 60.19h8.4M82.15 55.99v8.4M82.74 58.69h8.4M86.94 54.49v8.4M88.02 57.17h8.4M92.22 52.97v8.4M93.76 55.68h8.4M97.96 51.48v8.4M99.88 54.27h8.4M104.08 50.07v8.4M106.29 52.99h8.4M110.49 48.79v8.4M112.97 51.87h8.4M117.17 47.67v8.4M119.91 50.92h8.4M124.11 46.72v8.4M127.06 50.17h8.4M131.26 45.97v8.4M134.41 49.64h8.4M138.61 45.44v8.4M141.97 49.34h8.4M146.17 45.14v8.4M149.57 49.29h8.4M153.77 45.09v8.4M157.18 49.50h8.4M161.38 45.30v8.4M164.79 49.96h8.4M168.99 45.76v8.4M172.39 50.67h8.4M176.59 46.47v8.4M179.97 51.64h8.4M184.17 47.44v8.4M187.52 52.87h8.4M191.72 48.67v8.4M195.03 54.34h8.4M199.23 50.14v8.4M202.50 56.08h8.4M206.70 51.88v8.4M209.91 58.07h8.4M214.11 53.87v8.4M217.26 60.33h8.4M221.46 56.13v8.4M224.52 62.84h8.4M228.72 58.64v8.4M231.71 65.61h8.4M235.91 61.41v8.4M238.17 68.36h8.4M242.37 64.16v8.4M243.88 71.03h8.4M248.08 66.83v8.4M249.02 73.63h8.4M253.22 69.43v8.4M253.75 76.19h8.4M257.95 71.99v8.4M258.09 78.69h8.4M262.29 74.49v8.4M262.09 81.14h8.4M266.29 76.94v8.4M265.96 83.63h8.4M270.16 79.43v8.4M269.70 86.17h8.4M273.90 81.97v8.4M273.31 88.75h8.4M277.51 84.55v8.4M276.79 91.37h8.4M280.99 87.17v8.4M280.14 94.02h8.4M284.34 89.82v8.4M283.35 96.68h8.4M287.55 92.48v8.4M286.43 99.34h8.4M290.63 95.14v8.4M289.38 102.02h8.4M293.58 97.82v8.4M292.20 104.70h8.4M296.40 100.50v8.4M294.91 107.37h8.4M299.11 103.17v8.4M297.50 110.05h8.4M301.70 105.85v8.4M300.00 112.75h8.4M304.20 108.55v8.4M302.43 115.47h8.4M306.63 111.27v8.4M304.77 118.22h8.4M308.97 114.02v8.4M307.04 121.00h8.4M311.24 116.80v8.4M309.24 123.79h8.4M313.44 119.59v8.4M311.35 126.61h8.4M315.55 122.41v8.4M313.40 129.45h8.4M317.60 125.25v8.4M315.37 132.31h8.4M319.57 128.11v8.4M317.27 135.18h8.4M321.47 130.98v8.4M319.11 138.08h8.4M323.31 133.88v8.4M320.87 140.98h8.4M325.07 136.78v8.4" fill="none" stroke="#bf00bf" stroke-width="2.40"/>

<path d="M60.42 68.68 L61.12 68.36 L61.82 68.04 L62.52 67.73 L63.23 67.42 L63.94 67.11 L64.64 66.81 L65.35 66.50 L66.06 66.20 L66.77 65.90 L67.48 65.61 L68.20 65.32 L68.91 65.03 L69.62 64.74 L70.34 64.46 L71.06 64.18 L71.77 63.90 L72.49 63.62 L73.21 63.35 L73.93 63.08 L74.65 62.81 L75.38 62.54 L76.10 62.28 L76.82 62.02 L77.55 61.76 L78.28 61.51 L79.00 61.25 L79.73 61.00 L80.46 60.76 L81.19 60.51 L81.92 60.27 L82.65 60.03 L83.38 59.80 L84.11 59.56 L84.85 59.33 L85.58 59.10 L86.32 58.88 L87.05 58.65 L87.79 58.43 L88.53 58.21 L89.26 58.00 L90.00 57.79 L90.74 57.58 L91.48 57.37 L92.22 57.17 L92.97 56.96 L93.71 56.76 L94.45 56.57 L95.20 56.37 L95.94 56.18 L96.69 55.99 L97.43 55.81 L98.18 55.62 L98.92 55.44 L99.67 55.26 L100.42 55.09 L101.17 54.92 L101.92 54.75 L102.67 54.58 L103.42 54.41 L104.17 54.25 L104.92 54.09 L105.67 53.93 L106.43 53.78 L107.18 53.63 L107.93 53.48 L108.69 53.33 L109.44 53.19 L110.20 53.05 L110.96 52.91 L111.71 52.77 L112.47 52.64 L113.23 52.51 L113.98 52.38 L114.74 52.25 L115.50 52.13 L116.26 52.01 L117.02 51.89 L117.78 51.78 L118.54 51.66 L119.30 51.55 L120.06 51.45 L120.82 51.34 L121.58 51.24 L122.34 51.14 L123.11 51.04 L123.87 50.95 L124.63 50.86 L125.39 50.77 L126.16 50.68 L126.92 50.60 L127.69 50.51 L128.45 50.44 L129.21 50.36 L129.98 50.29 L130.74 50.22 L131.51 50.15 L132.27 50.08 L133.04 50.02 L133.81 49.96 L134.57 49.90 L135.34 49.84 L136.10 49.79 L136.87 49.74 L137.64 49.69 L138.41 49.65 L139.17 49.61 L139.94 49.57 L140.71 49.53 L141.47 49.50 L142.24 49.46 L143.01 49.43 L143.78 49.41 L144.54 49.38 L145.31 49.36 L146.08 49.34 L146.85 49.33 L147.61 49.31 L148.38 49.30 L149.15 49.29 L149.92 49.29 L150.69 49.28 L151.45 49.28 L152.22 49.28 L152.99 49.29 L153.76 49.29 L154.52 49.30 L155.29 49.31 L156.06 49.33 L156.83 49.35 L157.59 49.37 L158.36 49.39 L159.13 49.41 L159.90 49.44 L160.66 49.47 L161.43 49.50 L162.20 49.54 L162.96 49.57 L163.73 49.61 L164.50 49.66 L165.26 49.70 L166.03 49.75 L166.79 49.80 L167.56 49.85 L168.32 49.91 L169.09 49.97 L169.85 50.03 L170.62 50.09 L171.38 50.16 L172.14 50.22 L172.91 50.30 L173.67 50.37 L174.43 50.44 L175.20 50.52 L175.96 50.60 L176.72 50.69 L177.48 50.77 L178.24 50.86 L179.01 50.95 L179.77 51.05 L180.53 51.14 L181.29 51.24 L182.05 51.34 L182.80 51.45 L183.56 51.55 L184.32 51.66 L185.08 51.77 L185.84 51.89 L186.59 52.01 L187.35 52.12 L188.11 52.25 L188.86 52.37 L189.62 52.50 L190.37 52.63 L191.13 52.76 L191.88 52.89 L192.63 53.03 L193.38 53.17 L194.14 53.31 L194.89 53.46 L195.64 53.60 L196.39 53.75 L197.14 53.90 L197.89 54.06 L198.64 54.22 L199.38 54.38 L200.13 54.54 L200.88 54.70 L201.62 54.87 L202.37 55.04 L203.11 55.21 L203.86 55.39 L204.60 55.56 L205.34 55.74 L206.09 55.93 L206.83 56.11 L207.57 56.30 L208.31 56.49 L209.05 56.68 L209.79 56.88 L210.52 57.07 L211.26 57.27 L212.00 57.48 L212.73 57.68 L213.47 57.89 L214.20 58.10 L214.93 58.31 L215.67 58.53 L216.40 58.74 L217.13 58.96 L217.86 59.19 L218.59 59.41 L219.31 59.64 L220.04 59.87 L220.77 60.10 L221.49 60.34 L222.22 60.57 L222.94 60.81 L223.66 61.06 L224.39 61.30 L225.11 61.55 L225.83 61.80 L226.55 62.05 L227.26 62.31 L227.98 62.57 L228.70 62.83 L229.41 63.09 L230.13 63.35 L230.84 63.62 L231.55 63.89 L232.26 64.16 L232.97 64.44 L233.68 64.71 L234.39 64.99 L235.09 65.28 L235.80 65.56 L236.51 65.85 L237.21 66.14 L237.91 66.43 L238.61 66.73 L239.31 67.02 L240.01 67.32 L240.71 67.63 L241.41 67.93 L242.10 68.24 L242.80 68.55 L243.49 68.86 L244.18 69.17 L244.87 69.49 L245.56 69.81 L246.25 70.13 L246.94 70.46 L247.62 70.78 L248.31 71.11 L248.99 71.45 L249.67 71.78 L250.36 72.12 L251.04 72.46 L251.71 72.80 L252.39 73.14 L253.07 73.49 L253.74 73.84 L254.41 74.19 L255.09 74.54 L255.76 74.90 L256.43 75.26 L257.09 75.62 L257.76 75.98 L258.43 76.35 L259.09 76.72 L259.75 77.09 L260.41 77.46 L261.07 77.84 L261.73 78.22 L262.39 78.60 L263.04 78.98 L263.69 79.37 L264.35 79.76 L265.00 80.15 L265.65 80.54 L266.29 80.94 L266.94 81.34 L267.59 81.74 L268.23 82.14 L268.87 82.55 L269.51 82.95 L270.15 83.36 L270.79 83.78 L271.42 84.19 L272.06 84.61 L272.69 85.03 L273.32 85.45 L273.95 85.88 L274.57 86.31 L275.20 86.74 L275.82 87.17 L276.45 87.60 L277.07 88.04 L277.69 88.48 L278.31 88.92 L278.92 89.37 L279.54 89.81 L280.15 90.26 L280.76 90.71 L281.37 91.17 L281.97 91.62 L282.58 92.08 L283.18 92.55 L283.79 93.01 L284.39 93.48 L284.99 93.94 L285.58 94.42 L286.18 94.89 L286.77 95.36 L287.36 95.84 L287.95 96.32 L288.54 96.81 L289.12 97.29 L289.71 97.78 L290.29 98.27 L290.87 98.76 L291.45 99.26 L292.03 99.76 L292.60 100.26 L293.17 100.76 L293.74 101.26 L294.31 101.77 L294.88 102.28 L295.45 102.79 L296.01 103.31 L296.57 103.83 L297.13 104.35 L297.69 104.87 L298.24 105.39 L298.79 105.92 L299.35 106.45 L299.89 106.98 L300.44 107.51 L300.99 108.05 L301.53 108.59 L302.07 109.13 L302.61 109.67 L303.15 110.22 L303.68 110.76 L304.21 111.32 L304.74 111.87 L305.27 112.42 L305.80 112.98 L306.32 113.54 L306.85 114.10 L307.37 114.67 L307.88 115.24 L308.40 115.81 L308.91 116.38 L309.42 116.95 L309.93 117.53 L310.44 118.11 L310.94 118.69 L311.45 119.27 L311.95 119.86 L312.44 120.45 L312.94 121.04 L313.43 121.63 L313.92 122.23 L314.41 122.83 L314.90 123.43 L315.38 124.03 L315.87 124.64 L316.35 125.24 L316.82 125.85 L317.30 126.47 L317.77 127.08 L318.24 127.70 L318.71 128.32 L319.18 128.94 L319.64 129.56 L320.10 130.19 L320.56 130.82 L321.01 131.45 L321.47 132.08 L321.92 132.72 L322.37 133.36 L322.81 134.00 L323.26 134.64 L323.70 135.29 L324.14 135.94 L324.57 136.59 L325.01 137.24 L325.44 137.89 L325.87 138.55 L326.29 139.21 L326.72 139.87 L327.14 140.54 L327.56 141.20 L327.97 141.87 L328.39 142.54 L328.80 143.22 L329.21 143.89 L329.61 144.57 L330.02 145.25" fill="none" stroke="#000000" stroke-width="2.90" stroke-linejoin="miter" stroke-linecap="butt"/>

<g clip-path="url(#cb)">
<path d="M60.40 495.06 L64.43 495.74 L68.46 496.45 L72.49 497.20 L76.52 497.99 L80.55 498.83 L84.58 499.71 L88.62 500.65 L92.65 501.64 L96.68 502.69 L100.71 503.81 L104.74 504.99 L108.77 506.24 L112.80 507.56 L116.83 508.96 L120.86 510.44 L124.89 512.00 L128.92 513.65 L132.95 515.39 L136.98 517.23 L141.01 519.16 L145.05 521.19 L149.08 523.33 L153.11 525.57 L157.14 527.93 L161.17 530.40 L165.20 532.98 L169.23 535.69 L173.26 538.53 L177.29 541.49 L181.32 544.59 L185.35 547.82 L189.38 551.19 L193.41 554.71 L197.44 558.37 L201.48 562.18 L205.51 566.14 L209.54 570.26 L213.57 574.54 L217.60 578.98 L221.63 583.59 L225.66 588.37 L229.69 593.33 L233.72 598.46 L237.75 603.78 L241.78 609.27 L245.81 614.96 L249.84 620.84 L253.87 626.91 L257.91 633.17 L261.94 639.56 L265.97 646.01 L270.00 652.45 L274.03 658.80 L278.06 665.01 L282.09 670.99 L286.12 676.68 L290.15 682.03 L294.18 687.04 L298.21 691.71 L302.24 696.05 L306.27 700.06 L310.30 703.75 L314.34 707.11 L318.37 710.16 L322.40 712.94 L326.43 715.49 L330.46 718.11 L334.49 720.67 L338.52 723.11 L342.55 725.49 L346.58 727.84 L350.61 730.00 L354.64 732.06 L358.67 734.13 L362.70 736.19 L366.73 738.23 L370.77 740.26 L374.80 751.60 L378.83 747.42 L382.86 749.39 L386.89 751.40 L390.92 753.35 L394.95 755.25 L398.98 757.08 L403.01 758.85 L407.04 760.56 L411.07 762.20 L415.10 763.78 L419.13 765.29 L423.16 766.74 L427.20 768.12 L431.23 769.43 L435.26 770.67 L439.29 771.85 L443.32 772.96 L447.35 774.02 L451.38 775.02 L455.41 775.96 L459.44 776.85 L463.47 777.69 L467.50 778.47 L471.53 779.21 L475.56 779.91 L479.59 780.56 L483.63 781.18 L487.66 781.75 L491.69 782.28 L495.72 782.78 L499.75 783.24 L503.78 783.67 L507.81 784.07 L511.84 784.43 L515.87 784.77 L519.90 785.07 L523.93 785.35 L527.96 785.60 L531.99 785.82 L536.02 786.02 L540.06 786.20 L544.09 786.36 L548.12 786.50 L552.15 786.62 L556.18 786.72 L560.21 786.81 L564.24 786.88 L568.27 786.94 L572.30 786.98 L576.33 787.02 L580.36 787.05 L584.39 787.07 L588.42 787.08 L592.45 787.08 L596.49 787.09 L600.52 787.09 L604.55 787.08 L608.58 787.08 L612.61 787.08 L616.64 787.08 L620.67 787.09 L624.70 787.10 L628.73 787.11 L632.76 787.14 L636.79 787.17 L640.82 787.21 L644.85 787.27 L648.88 787.34 L652.92 787.42 L656.95 787.52 L660.98 787.63 L665.01 787.76 L669.04 787.92 L673.07 788.09" fill="none" stroke="#0000ff" stroke-width="2.90" stroke-dasharray="9.6 8.8" stroke-linejoin="miter" stroke-linecap="butt"/>

<path d="M60.40 489.40 L64.43 489.94 L68.46 490.54 L72.49 491.20 L76.52 491.93 L80.55 492.73 L84.58 493.59 L88.62 494.53 L92.65 495.54 L96.68 496.62 L100.71 497.78 L104.74 499.02 L108.77 500.34 L112.80 501.74 L116.83 503.22 L120.86 504.79 L124.89 506.45 L128.92 508.20 L132.95 510.04 L136.98 511.97 L141.01 513.99 L145.05 516.12 L149.08 518.34 L153.11 520.67 L157.14 523.09 L161.17 525.63 L165.20 528.26 L169.23 531.01 L173.26 533.87 L177.29 536.83 L181.32 539.92 L185.35 543.12 L189.38 546.45 L193.41 549.92 L197.44 553.55 L201.48 557.35 L205.51 561.32 L209.54 565.49 L213.57 569.85 L217.60 574.43 L221.63 579.23 L225.66 584.25 L229.69 589.47 L233.72 594.89 L237.75 600.51 L241.78 606.30 L245.81 612.29 L249.84 618.48 L253.87 624.89 L257.91 631.44 L261.94 638.09 L265.97 644.75 L270.00 651.36 L274.03 657.86 L278.06 664.16 L282.09 670.22 L286.12 675.95 L290.15 681.30 L294.18 686.23 L298.21 690.76 L302.24 694.92 L306.27 698.75 L310.30 702.28 L314.34 705.53 L318.37 708.54 L322.40 711.34 L326.43 713.98 L330.46 716.90 L334.49 719.86 L338.52 722.64 L342.55 725.29 L346.58 727.81 L350.61 730.00 L354.64 732.06 L358.67 734.13 L362.70 736.19 L366.73 738.23 L370.77 740.26 L374.80 751.60 L378.83 747.42 L382.86 749.39 L386.89 751.40 L390.92 753.35 L394.95 755.25 L398.98 757.08 L403.01 758.85 L407.04 760.56 L411.07 762.20 L415.10 763.78 L419.13 765.29 L423.16 766.74 L427.20 768.12 L431.23 769.43 L435.26 770.67 L439.29 771.85 L443.32 772.96 L447.35 774.02 L451.38 775.02 L455.41 775.96 L459.44 776.85 L463.47 777.69 L467.50 778.47 L471.53 779.21 L475.56 779.91 L479.59 780.56 L483.63 781.18 L487.66 781.75 L491.69 782.28 L495.72 782.78 L499.75 783.24 L503.78 783.67 L507.81 784.07 L511.84 784.43 L515.87 784.77 L519.90 785.07 L523.93 785.35 L527.96 785.60 L531.99 785.82 L536.02 786.02 L540.06 786.20 L544.09 786.36 L548.12 786.50 L552.15 786.62 L556.18 786.72 L560.21 786.81 L564.24 786.88 L568.27 786.94 L572.30 786.98 L576.33 787.02 L580.36 787.05 L584.39 787.07 L588.42 787.08 L592.45 787.08 L596.49 787.09 L600.52 787.09 L604.55 787.08 L608.58 787.08 L612.61 787.08 L616.64 787.08 L620.67 787.09 L624.70 787.10 L628.73 787.11 L632.76 787.14 L636.79 787.17 L640.82 787.21 L644.85 787.27 L648.88 787.34 L652.92 787.42 L656.95 787.52 L660.98 787.63 L665.01 787.76 L669.04 787.92 L673.07 788.09" fill="none" stroke="#00ffff" stroke-width="2.90" stroke-dasharray="3 1.6" stroke-linejoin="miter" stroke-linecap="butt"/>

<path d="M60.40 655.74 L64.43 656.24 L68.46 656.74 L72.49 657.25 L76.52 657.77 L80.55 658.28 L84.58 658.81 L88.62 659.34 L92.65 659.88 L96.68 660.42 L100.71 660.97 L104.74 661.53 L108.77 662.09 L112.80 662.66 L116.83 663.24 L120.86 663.83 L124.89 664.43 L128.92 665.03 L132.95 665.65 L136.98 666.27 L141.01 666.90 L145.05 667.55 L149.08 668.20 L153.11 668.87 L157.14 669.54 L161.17 670.23 L165.20 670.92 L169.23 671.63 L173.26 672.35 L177.29 673.09 L181.32 673.83 L185.35 674.59 L189.38 675.36 L193.41 676.15 L197.44 676.94 L201.48 677.76 L205.51 678.58 L209.54 679.42 L213.57 680.27 L217.60 681.14 L221.63 682.03 L225.66 682.92 L229.69 683.84 L233.72 684.76 L237.75 685.70 L241.78 686.66 L245.81 687.62 L249.84 688.59 L253.87 689.73 L257.91 690.90 L261.94 692.11 L265.97 693.35 L270.00 694.63 L274.03 695.95 L278.06 697.32 L282.09 698.74 L286.12 700.22 L290.15 701.75 L294.18 703.33 L298.21 704.96 L302.24 706.65 L306.27 708.39 L310.30 710.18 L314.34 712.03 L318.37 713.91 L322.40 715.83 L326.43 717.79 L330.46 719.78 L334.49 721.79 L338.52 723.82 L342.55 725.87 L346.58 727.93 L350.61 730.00 L354.64 732.06 L358.67 734.13 L362.70 736.19 L366.73 738.23 L370.77 740.26 L374.80 751.60 L378.83 747.42 L382.86 749.39 L386.89 751.40 L390.92 753.35 L394.95 755.25 L398.98 757.08 L403.01 758.85 L407.04 760.56 L411.07 762.20 L415.10 763.78 L419.13 765.29 L423.16 766.74 L427.20 768.12 L431.23 769.43 L435.26 770.67 L439.29 771.85 L443.32 772.96 L447.35 774.02 L451.38 775.02 L455.41 775.96 L459.44 776.85 L463.47 777.69 L467.50 778.47 L471.53 779.21 L475.56 779.91 L479.59 780.56 L483.63 781.18 L487.66 781.75 L491.69 782.28 L495.72 782.78 L499.75 783.24 L503.78 783.67 L507.81 784.07 L511.84 784.43 L515.87 784.77 L519.90 785.07 L523.93 785.35 L527.96 785.60 L531.99 785.82 L536.02 786.02 L540.06 786.20 L544.09 786.36 L548.12 786.50 L552.15 786.62 L556.18 786.72 L560.21 786.81 L564.24 786.88 L568.27 786.94 L572.30 786.98 L576.33 787.02 L580.36 787.05 L584.39 787.07 L588.42 787.08 L592.45 787.08 L596.49 787.09 L600.52 787.09 L604.55 787.08 L608.58 787.08 L612.61 787.08 L616.64 787.08 L620.67 787.09 L624.70 787.10 L628.73 787.11 L632.76 787.14 L636.79 787.17 L640.82 787.21 L644.85 787.27 L648.88 787.34 L652.92 787.42 L656.95 787.52 L660.98 787.63 L665.01 787.76 L669.04 787.92 L673.07 788.09" fill="none" stroke="#ff0000" stroke-width="2.90" stroke-dasharray="9.4 2.2 4.8 2.0" stroke-linejoin="miter" stroke-linecap="butt"/>

<path d="M60.40 654.54 L64.43 655.06 L68.46 655.59 L72.49 656.12 L76.52 656.66 L80.55 657.20 L84.58 657.75 L88.62 658.30 L92.65 658.86 L96.68 659.43 L100.71 660.00 L104.74 660.58 L108.77 661.17 L112.80 661.77 L116.83 662.37 L120.86 662.98 L124.89 663.60 L128.92 664.23 L132.95 664.87 L136.98 665.52 L141.01 666.18 L145.05 666.84 L149.08 667.52 L153.11 668.21 L157.14 668.91 L161.17 669.62 L165.20 670.34 L169.23 671.08 L173.26 671.82 L177.29 672.58 L181.32 673.35 L185.35 674.14 L189.38 674.93 L193.41 675.74 L197.44 676.57 L201.48 677.40 L205.51 678.26 L209.54 679.12 L213.57 680.00 L217.60 680.90 L221.63 681.81 L225.66 682.74 L229.69 683.68 L233.72 684.63 L237.75 685.60 L241.78 686.59 L245.81 687.58 L249.84 688.58 L253.87 689.73 L257.91 690.90 L261.94 692.11 L265.97 693.35 L270.00 694.63 L274.03 695.95 L278.06 697.32 L282.09 698.74 L286.12 700.22 L290.15 701.75 L294.18 703.33 L298.21 704.96 L302.24 706.65 L306.27 708.39 L310.30 710.18 L314.34 712.03 L318.37 713.91 L322.40 715.83 L326.43 717.79 L330.46 719.78 L334.49 721.79 L338.52 723.82 L342.55 725.87 L346.58 727.93 L350.61 730.00 L354.64 732.06 L358.67 734.13 L362.70 736.19 L366.73 738.23 L370.77 740.26 L374.80 751.60 L378.83 747.42 L382.86 749.39 L386.89 751.40 L390.92 753.35 L394.95 755.25 L398.98 757.08 L403.01 758.85 L407.04 760.56 L411.07 762.20 L415.10 763.78 L419.13 765.29 L423.16 766.74 L427.20 768.12 L431.23 769.43 L435.26 770.67 L439.29 771.85 L443.32 772.96 L447.35 774.02 L451.38 775.02 L455.41 775.96 L459.44 776.85 L463.47 777.69 L467.50 778.47 L471.53 779.21 L475.56 779.91 L479.59 780.56 L483.63 781.18 L487.66 781.75 L491.69 782.28 L495.72 782.78 L499.75 783.24 L503.78 783.67 L507.81 784.07 L511.84 784.43 L515.87 784.77 L519.90 785.07 L523.93 785.35 L527.96 785.60 L531.99 785.82 L536.02 786.02 L540.06 786.20 L544.09 786.36 L548.12 786.50 L552.15 786.62 L556.18 786.72 L560.21 786.81 L564.24 786.88 L568.27 786.94 L572.30 786.98 L576.33 787.02 L580.36 787.05 L584.39 787.07 L588.42 787.08 L592.45 787.08 L596.49 787.09 L600.52 787.09 L604.55 787.08 L608.58 787.08 L612.61 787.08 L616.64 787.08 L620.67 787.09 L624.70 787.10 L628.73 787.11 L632.76 787.14 L636.79 787.17 L640.82 787.21 L644.85 787.27 L648.88 787.34 L652.92 787.42 L656.95 787.52 L660.98 787.63 L665.01 787.76 L669.04 787.92 L673.07 788.09" fill="none" stroke="#007f00" stroke-width="2.90" stroke-linejoin="miter" stroke-linecap="butt"/>

<path d="M60.40 653.14 L64.43 653.69 L68.46 654.25 L72.49 654.81 L76.52 655.37 L80.55 655.94 L84.58 656.51 L88.62 657.10 L92.65 657.68 L96.68 658.28 L100.71 658.88 L104.74 659.49 L108.77 660.10 L112.80 660.72 L116.83 661.36 L120.86 661.99 L124.89 662.64 L128.92 663.30 L132.95 663.97 L136.98 664.64 L141.01 665.33 L145.05 666.02 L149.08 666.73 L153.11 667.45 L157.14 668.18 L161.17 668.91 L165.20 669.67 L169.23 670.43 L173.26 671.20 L177.29 671.99 L181.32 672.79 L185.35 673.61 L189.38 674.43 L193.41 675.27 L197.44 676.13 L201.48 676.99 L205.51 677.88 L209.54 678.77 L213.57 679.69 L217.60 680.61 L221.63 681.56 L225.66 682.51 L229.69 683.49 L233.72 684.48 L237.75 685.48 L241.78 686.50 L245.81 687.54 L249.84 688.58 L253.87 689.73 L257.91 690.90 L261.94 692.11 L265.97 693.35 L270.00 694.63 L274.03 695.95 L278.06 697.32 L282.09 698.74 L286.12 700.22 L290.15 701.75 L294.18 703.33 L298.21 704.96 L302.24 706.65 L306.27 708.39 L310.30 710.18 L314.34 712.03 L318.37 713.91 L322.40 715.83 L326.43 717.79 L330.46 719.78 L334.49 721.79 L338.52 723.82 L342.55 725.87 L346.58 727.93 L350.61 730.00 L354.64 732.06 L358.67 734.13 L362.70 736.19 L366.73 738.23 L370.77 740.26 L374.80 751.60 L378.83 747.42 L382.86 749.39 L386.89 751.40 L390.92 753.35 L394.95 755.25 L398.98 757.08 L403.01 758.85 L407.04 760.56 L411.07 762.20 L415.10 763.78 L419.13 765.29 L423.16 766.74 L427.20 768.12 L431.23 769.43 L435.26 770.67 L439.29 771.85 L443.32 772.96 L447.35 774.02 L451.38 775.02 L455.41 775.96 L459.44 776.85 L463.47 777.69 L467.50 778.47 L471.53 779.21 L475.56 779.91 L479.59 780.56 L483.63 781.18 L487.66 781.75 L491.69 782.28 L495.72 782.78 L499.75 783.24 L503.78 783.67 L507.81 784.07 L511.84 784.43 L515.87 784.77 L519.90 785.07 L523.93 785.35 L527.96 785.60 L531.99 785.82 L536.02 786.02 L540.06 786.20 L544.09 786.36 L548.12 786.50 L552.15 786.62 L556.18 786.72 L560.21 786.81 L564.24 786.88 L568.27 786.94 L572.30 786.98 L576.33 787.02 L580.36 787.05 L584.39 787.07 L588.42 787.08 L592.45 787.08 L596.49 787.09 L600.52 787.09 L604.55 787.08 L608.58 787.08 L612.61 787.08 L616.64 787.08 L620.67 787.09 L624.70 787.10 L628.73 787.11 L632.76 787.14 L636.79 787.17 L640.82 787.21 L644.85 787.27 L648.88 787.34 L652.92 787.42 L656.95 787.52 L660.98 787.63 L665.01 787.76 L669.04 787.92 L673.07 788.09" fill="none" stroke="#bf00bf" stroke-width="2.90" stroke-dasharray="9.6 8.8" stroke-linejoin="miter" stroke-linecap="butt"/>

</g>
<path d="M57.20 653.14h6.4M60.40 649.94v6.4M61.23 653.69h6.4M64.43 650.49v6.4M65.26 654.25h6.4M68.46 651.05v6.4M69.29 654.81h6.4M72.49 651.61v6.4M73.32 655.37h6.4M76.52 652.17v6.4M77.35 655.94h6.4M80.55 652.74v6.4M81.38 656.51h6.4M84.58 653.31v6.4M85.42 657.10h6.4M88.62 653.90v6.4M89.45 657.68h6.4M92.65 654.48v6.4M93.48 658.28h6.4M96.68 655.08v6.4M97.51 658.88h6.4M100.71 655.68v6.4M101.54 659.49h6.4M104.74 656.29v6.4M105.57 660.10h6.4M108.77 656.90v6.4M109.60 660.72h6.4M112.80 657.52v6.4M113.63 661.36h6.4M116.83 658.16v6.4M117.66 661.99h6.4M120.86 658.79v6.4M121.69 662.64h6.4M124.89 659.44v6.4M125.72 663.30h6.4M128.92 660.10v6.4M129.75 663.97h6.4M132.95 660.77v6.4M133.78 664.64h6.4M136.98 661.44v6.4M137.81 665.33h6.4M141.01 662.13v6.4M141.85 666.02h6.4M145.05 662.82v6.4M145.88 666.73h6.4M149.08 663.53v6.4M149.91 667.45h6.4M153.11 664.25v6.4M153.94 668.18h6.4M157.14 664.98v6.4M157.97 668.91h6.4M161.17 665.71v6.4M162.00 669.67h6.4M165.20 666.47v6.4M166.03 670.43h6.4M169.23 667.23v6.4M170.06 671.20h6.4M173.26 668.00v6.4M174.09 671.99h6.4M177.29 668.79v6.4M178.12 672.79h6.4M181.32 669.59v6.4M182.15 673.61h6.4M185.35 670.41v6.4M186.18 674.43h6.4M189.38 671.23v6.4M190.21 675.27h6.4M193.41 672.07v6.4M194.24 676.13h6.4M197.44 672.93v6.4M198.28 676.99h6.4M201.48 673.79v6.4M202.31 677.88h6.4M205.51 674.68v6.4M206.34 678.77h6.4M209.54 675.57v6.4M210.37 679.69h6.4M213.57 676.49v6.4M214.40 680.61h6.4M217.60 677.41v6.4M218.43 681.56h6.4M221.63 678.36v6.4M222.46 682.51h6.4M225.66 679.31v6.4M226.49 683.49h6.4M229.69 680.29v6.4M230.52 684.48h6.4M233.72 681.28v6.4M234.55 685.48h6.4M237.75 682.28v6.4M238.58 686.50h6.4M241.78 683.30v6.4M242.61 687.54h6.4M245.81 684.34v6.4M246.64 688.58h6.4M249.84 685.38v6.4M250.67 689.73h6.4M253.87 686.53v6.4M254.71 690.90h6.4M257.91 687.70v6.4M258.74 692.11h6.4M261.94 688.91v6.4M262.77 693.35h6.4M265.97 690.15v6.4M266.80 694.63h6.4M270.00 691.43v6.4M270.83 695.95h6.4M274.03 692.75v6.4M274.86 697.32h6.4M278.06 694.12v6.4M278.89 698.74h6.4M282.09 695.54v6.4M282.92 700.22h6.4M286.12 697.02v6.4M286.95 701.75h6.4M290.15 698.55v6.4M290.98 703.33h6.4M294.18 700.13v6.4M295.01 704.96h6.4M298.21 701.76v6.4M299.04 706.65h6.4M302.24 703.45v6.4M303.07 708.39h6.4M306.27 705.19v6.4M307.10 710.18h6.4M310.30 706.98v6.4M311.14 712.03h6.4M314.34 708.83v6.4M315.17 713.91h6.4M318.37 710.71v6.4M319.20 715.83h6.4M322.40 712.63v6.4M323.23 717.79h6.4M326.43 714.59v6.4M327.26 719.78h6.4M330.46 716.58v6.4M331.29 721.79h6.4M334.49 718.59v6.4M335.32 723.82h6.4M338.52 720.62v6.4M339.35 725.87h6.4M342.55 722.67v6.4M343.38 727.93h6.4M346.58 724.73v6.4M347.41 730.00h6.4M350.61 726.80v6.4M351.44 732.06h6.4M354.64 728.86v6.4M355.47 734.13h6.4M358.67 730.93v6.4M359.50 736.19h6.4M362.70 732.99v6.4M363.53 738.23h6.4M366.73 735.03v6.4M367.57 740.26h6.4M370.77 737.06v6.4M371.60 751.60h6.4M374.80 748.40v6.4M375.63 747.42h6.4M378.83 744.22v6.4M379.66 749.39h6.4M382.86 746.19v6.4M383.69 751.40h6.4M386.89 748.20v6.4M387.72 753.35h6.4M390.92 750.15v6.4M391.75 755.25h6.4M394.95 752.05v6.4M395.78 757.08h6.4M398.98 753.88v6.4M399.81 758.85h6.4M403.01 755.65v6.4M403.84 760.56h6.4M407.04 757.36v6.4M407.87 762.20h6.4M411.07 759.00v6.4M411.90 763.78h6.4M415.10 760.58v6.4M415.93 765.29h6.4M419.13 762.09v6.4M419.96 766.74h6.4M423.16 763.54v6.4M424.00 768.12h6.4M427.20 764.92v6.4M428.03 769.43h6.4M431.23 766.23v6.4M432.06 770.67h6.4M435.26 767.47v6.4M436.09 771.85h6.4M439.29 768.65v6.4M440.12 772.96h6.4M443.32 769.76v6.4M444.15 774.02h6.4M447.35 770.82v6.4M448.18 775.02h6.4M451.38 771.82v6.4M452.21 775.96h6.4M455.41 772.76v6.4M456.24 776.85h6.4M459.44 773.65v6.4M460.27 777.69h6.4M463.47 774.49v6.4M464.30 778.47h6.4M467.50 775.27v6.4M468.33 779.21h6.4M471.53 776.01v6.4M472.36 779.91h6.4M475.56 776.71v6.4M476.39 780.56h6.4M479.59 777.36v6.4M480.43 781.18h6.4M483.63 777.98v6.4M484.46 781.75h6.4M487.66 778.55v6.4M488.49 782.28h6.4M491.69 779.08v6.4M492.52 782.78h6.4M495.72 779.58v6.4M496.55 783.24h6.4M499.75 780.04v6.4M500.58 783.67h6.4M503.78 780.47v6.4M504.61 784.07h6.4M507.81 780.87v6.4M508.64 784.43h6.4M511.84 781.23v6.4M512.67 784.77h6.4M515.87 781.57v6.4M516.70 785.07h6.4M519.90 781.87v6.4M520.73 785.35h6.4M523.93 782.15v6.4M524.76 785.60h6.4M527.96 782.40v6.4M528.79 785.82h6.4M531.99 782.62v6.4M532.82 786.02h6.4M536.02 782.82v6.4M536.86 786.20h6.4M540.06 783.00v6.4M540.89 786.36h6.4M544.09 783.16v6.4M544.92 786.50h6.4M548.12 783.30v6.4M548.95 786.62h6.4M552.15 783.42v6.4M552.98 786.72h6.4M556.18 783.52v6.4M557.01 786.81h6.4M560.21 783.61v6.4M561.04 786.88h6.4M564.24 783.68v6.4M565.07 786.94h6.4M568.27 783.74v6.4M569.10 786.98h6.4M572.30 783.78v6.4M573.13 787.02h6.4M576.33 783.82v6.4M577.16 787.05h6.4M580.36 783.85v6.4M581.19 787.07h6.4M584.39 783.87v6.4M585.22 787.08h6.4M588.42 783.88v6.4M589.25 787.08h6.4M592.45 783.88v6.4M593.29 787.09h6.4M596.49 783.89v6.4M597.32 787.09h6.4M600.52 783.89v6.4M601.35 787.08h6.4M604.55 783.88v6.4M605.38 787.08h6.4M608.58 783.88v6.4M609.41 787.08h6.4M612.61 783.88v6.4M613.44 787.08h6.4M616.64 783.88v6.4M617.47 787.09h6.4M620.67 783.89v6.4M621.50 787.10h6.4M624.70 783.90v6.4M625.53 787.11h6.4M628.73 783.91v6.4M629.56 787.14h6.4M632.76 783.94v6.4M633.59 787.17h6.4M636.79 783.97v6.4M637.62 787.21h6.4M640.82 784.01v6.4M641.65 787.27h6.4M644.85 784.07v6.4M645.68 787.34h6.4M648.88 784.14v6.4M649.72 787.42h6.4M652.92 784.22v6.4M653.75 787.52h6.4M656.95 784.32v6.4M657.78 787.63h6.4M660.98 784.43v6.4M661.81 787.76h6.4M665.01 784.56v6.4M665.84 787.92h6.4M669.04 784.72v6.4M669.87 788.09h6.4M673.07 784.89v6.4" fill="none" stroke="#bf00bf" stroke-width="2.20"/>

<path d="M60.40 650.35 L64.43 650.95 L68.46 651.56 L72.49 652.17 L76.52 652.79 L80.55 653.41 L84.58 654.04 L88.62 654.68 L92.65 655.32 L96.68 655.97 L100.71 656.62 L104.74 657.29 L108.77 657.96 L112.80 658.64 L116.83 659.32 L120.86 660.02 L124.89 660.72 L128.92 661.43 L132.95 662.16 L136.98 662.89 L141.01 663.63 L145.05 664.38 L149.08 665.15 L153.11 665.92 L157.14 666.71 L161.17 667.50 L165.20 668.31 L169.23 669.13 L173.26 669.97 L177.29 670.81 L181.32 671.67 L185.35 672.54 L189.38 673.43 L193.41 674.33 L197.44 675.25 L201.48 676.17 L205.51 677.12 L209.54 678.08 L213.57 679.05 L217.60 680.04 L221.63 681.05 L225.66 682.07 L229.69 683.11 L233.72 684.17 L237.75 685.25 L241.78 686.34 L245.81 687.45 L249.84 688.58 L253.87 689.73 L257.91 690.90 L261.94 692.11 L265.97 693.35 L270.00 694.63 L274.03 695.95 L278.06 697.32 L282.09 698.74 L286.12 700.22 L290.15 701.75 L294.18 703.33 L298.21 704.96 L302.24 706.65 L306.27 708.39 L310.30 710.18 L314.34 712.03 L318.37 713.91 L322.40 715.83 L326.43 717.79 L330.46 719.78 L334.49 721.79 L338.52 723.82 L342.55 725.87 L346.58 727.93 L350.61 730.00 L354.64 732.06 L358.67 734.13 L362.70 736.19 L366.73 738.23 L370.77 740.26 L374.80 751.60 L378.83 747.42 L382.86 749.39 L386.89 751.40 L390.92 753.35 L394.95 755.25 L398.98 757.08 L403.01 758.85 L407.04 760.56 L411.07 762.20 L415.10 763.78 L419.13 765.29 L423.16 766.74 L427.20 768.12 L431.23 769.43 L435.26 770.67 L439.29 771.85 L443.32 772.96 L447.35 774.02 L451.38 775.02 L455.41 775.96 L459.44 776.85 L463.47 777.69 L467.50 778.47 L471.53 779.21 L475.56 779.91 L479.59 780.56 L483.63 781.18 L487.66 781.75 L491.69 782.28 L495.72 782.78 L499.75 783.24 L503.78 783.67 L507.81 784.07 L511.84 784.43 L515.87 784.77 L519.90 785.07 L523.93 785.35 L527.96 785.60 L531.99 785.82 L536.02 786.02 L540.06 786.20 L544.09 786.36 L548.12 786.50 L552.15 786.62 L556.18 786.72 L560.21 786.81 L564.24 786.88 L568.27 786.94 L572.30 786.98 L576.33 787.02 L580.36 787.05 L584.39 787.07 L588.42 787.08 L592.45 787.08 L596.49 787.09 L600.52 787.09 L604.55 787.08 L608.58 787.08 L612.61 787.08 L616.64 787.08 L620.67 787.09 L624.70 787.10 L628.73 787.11 L632.76 787.14 L636.79 787.17 L640.82 787.21 L644.85 787.27 L648.88 787.34 L652.92 787.42 L656.95 787.52 L660.98 787.63 L665.01 787.76 L669.04 787.92 L673.07 788.09" fill="none" stroke="#000000" stroke-width="2.90" stroke-linejoin="miter" stroke-linecap="butt"/>

<circle cx="673.07" cy="788.09" r="1.7" fill="#000"/>
<text x="143.30" y="382.30" font-size="18.00" text-anchor="middle" fill="#000" font-family="Liberation Serif, Times New Roman, serif">2</text>

<text x="247.80" y="382.30" font-size="18.00" text-anchor="middle" fill="#000" font-family="Liberation Serif, Times New Roman, serif">2.1</text>

<text x="352.30" y="382.30" font-size="18.00" text-anchor="middle" fill="#000" font-family="Liberation Serif, Times New Roman, serif">2.2</text>

<text x="456.80" y="382.30" font-size="18.00" text-anchor="middle" fill="#000" font-family="Liberation Serif, Times New Roman, serif">2.3</text>

<text x="561.30" y="382.30" font-size="18.00" text-anchor="middle" fill="#000" font-family="Liberation Serif, Times New Roman, serif">2.4</text>

<text x="665.80" y="382.30" font-size="18.00" text-anchor="middle" fill="#000" font-family="Liberation Serif, Times New Roman, serif">2.5</text>

<text x="53.30" y="11.70" font-size="18.00" text-anchor="end" fill="#000" font-family="Liberation Serif, Times New Roman, serif">3</text>

<text x="53.30" y="55.85" font-size="18.00" text-anchor="end" fill="#000" font-family="Liberation Serif, Times New Roman, serif">2</text>

<text x="53.30" y="100.00" font-size="18.00" text-anchor="end" fill="#000" font-family="Liberation Serif, Times New Roman, serif">1</text>

<text x="53.30" y="144.15" font-size="18.00" text-anchor="end" fill="#000" font-family="Liberation Serif, Times New Roman, serif">0</text>

<text x="53.30" y="188.30" font-size="18.00" text-anchor="end" fill="#000" font-family="Liberation Serif, Times New Roman, serif">-1</text>

<text x="53.30" y="232.45" font-size="18.00" text-anchor="end" fill="#000" font-family="Liberation Serif, Times New Roman, serif">-2</text>

<text x="53.30" y="276.60" font-size="18.00" text-anchor="end" fill="#000" font-family="Liberation Serif, Times New Roman, serif">-3</text>

<text x="53.30" y="320.75" font-size="18.00" text-anchor="end" fill="#000" font-family="Liberation Serif, Times New Roman, serif">-4</text>

<text x="53.30" y="364.90" font-size="18.00" text-anchor="end" fill="#000" font-family="Liberation Serif, Times New Roman, serif">-5</text>

<text x="59.80" y="823.90" font-size="18.00" text-anchor="middle" fill="#000" font-family="Liberation Serif, Times New Roman, serif">-60</text>

<text x="162.58" y="823.90" font-size="18.00" text-anchor="middle" fill="#000" font-family="Liberation Serif, Times New Roman, serif">-40</text>

<text x="265.37" y="823.90" font-size="18.00" text-anchor="middle" fill="#000" font-family="Liberation Serif, Times New Roman, serif">-20</text>

<text x="368.15" y="823.90" font-size="18.00" text-anchor="middle" fill="#000" font-family="Liberation Serif, Times New Roman, serif">0</text>

<text x="470.93" y="823.90" font-size="18.00" text-anchor="middle" fill="#000" font-family="Liberation Serif, Times New Roman, serif">20</text>

<text x="573.72" y="823.90" font-size="18.00" text-anchor="middle" fill="#000" font-family="Liberation Serif, Times New Roman, serif">40</text>

<text x="676.50" y="823.90" font-size="18.00" text-anchor="middle" fill="#000" font-family="Liberation Serif, Times New Roman, serif">60</text>

<text x="53.30" y="451.10" font-size="18.00" text-anchor="end" fill="#000" font-family="Liberation Serif, Times New Roman, serif">2.5</text>

<text x="53.30" y="510.45" font-size="18.00" text-anchor="end" fill="#000" font-family="Liberation Serif, Times New Roman, serif">2.4</text>

<text x="53.30" y="569.80" font-size="18.00" text-anchor="end" fill="#000" font-family="Liberation Serif, Times New Roman, serif">2.3</text>

<text x="53.30" y="629.15" font-size="18.00" text-anchor="end" fill="#000" font-family="Liberation Serif, Times New Roman, serif">2.2</text>

<text x="53.30" y="688.50" font-size="18.00" text-anchor="end" fill="#000" font-family="Liberation Serif, Times New Roman, serif">2.1</text>

<text x="53.30" y="747.85" font-size="18.00" text-anchor="end" fill="#000" font-family="Liberation Serif, Times New Roman, serif">2.0</text>

<text x="53.30" y="807.20" font-size="18.00" text-anchor="end" fill="#000" font-family="Liberation Serif, Times New Roman, serif">1.9</text>

<text x="368.75" y="405.60" font-size="22.00" text-anchor="middle" fill="#000" font-family="Liberation Serif, Times New Roman, serif"><tspan font-style="italic">α</tspan></text>

<text x="368.75" y="840.50" font-size="22.00" text-anchor="middle" fill="#000" font-family="Liberation Serif, Times New Roman, serif">q</text>

<text transform="translate(30.8 202) rotate(-90)" font-size="22" font-family="Liberation Serif, Times New Roman, serif"><tspan x="0">f</tspan><tspan x="13" font-size="18" dy="-1.2">(</tspan><tspan x="20.2" dy="1.2" font-style="italic">α</tspan><tspan x="33.8" font-size="18" dy="-1.2">)</tspan></text>

<text transform="translate(13.7 634.5) rotate(-90)" font-size="21" font-family="Liberation Serif, Times New Roman, serif">D<tspan font-size="16" dx="0.8" dy="9.4">q</tspan></text>

<text x="67.00" y="36.80" font-size="28.50" text-anchor="start" fill="#000" font-family="Liberation Serif, Times New Roman, serif">(a)</text>

<text x="69.00" y="474.60" font-size="24.00" text-anchor="start" fill="#000" font-family="Liberation Serif, Times New Roman, serif">(b)</text>

<path d="M255.80 165.50 L294.60 165.50" fill="none" stroke="#0000ff" stroke-width="2.90" stroke-dasharray="9.6 8.8" stroke-linejoin="miter" stroke-linecap="butt"/>
<text transform="matrix(1 0 0 1.18 297.70 169.10)" font-size="19.5" font-family="Liberation Serif, Times New Roman, serif">Λ</text><text x="311.80" y="178.60" font-size="16.5" font-family="Liberation Serif, Times New Roman, serif">0</text><text x="319.75" y="170.40" font-size="21" font-family="Liberation Serif, Times New Roman, serif">=</text><text x="331.00" y="169.10" font-size="20" font-family="Liberation Serif, Times New Roman, serif">0.01 <tspan font-style="italic" dx="1.3">ω</tspan><tspan font-size="16.5" dy="9.5">0</tspan></text>
<path d="M255.80 199.00 L294.60 199.00" fill="none" stroke="#00ffff" stroke-width="2.90" stroke-dasharray="3 1.6" stroke-linejoin="miter" stroke-linecap="butt"/>
<text transform="matrix(1 0 0 1.18 297.70 202.60)" font-size="19.5" font-family="Liberation Serif, Times New Roman, serif">Λ</text><text x="311.80" y="212.10" font-size="16.5" font-family="Liberation Serif, Times New Roman, serif">0</text><text x="319.75" y="203.90" font-size="21" font-family="Liberation Serif, Times New Roman, serif">=</text><text x="331.00" y="202.60" font-size="20" font-family="Liberation Serif, Times New Roman, serif">0.1<tspan font-style="italic" dx="1.3">ω</tspan><tspan font-size="16.5" dy="9.5">0</tspan></text>
<path d="M255.80 232.50 L294.60 232.50" fill="none" stroke="#ff0000" stroke-width="2.90" stroke-dasharray="9.4 2.2 4.8 2.0" stroke-linejoin="miter" stroke-linecap="butt"/>
<text transform="matrix(1 0 0 1.18 297.70 236.10)" font-size="19.5" font-family="Liberation Serif, Times New Roman, serif">Λ</text><text x="311.80" y="245.60" font-size="16.5" font-family="Liberation Serif, Times New Roman, serif">0</text><text x="319.75" y="237.40" font-size="21" font-family="Liberation Serif, Times New Roman, serif">=</text><text x="331.00" y="236.10" font-size="20" font-family="Liberation Serif, Times New Roman, serif">0.2 <tspan font-style="italic" dx="1.3">ω</tspan><tspan font-size="16.5" dy="9.5">0</tspan></text>
<path d="M255.80 266.00 L294.60 266.00" fill="none" stroke="#007f00" stroke-width="2.90" stroke-linejoin="miter" stroke-linecap="butt"/>
<text transform="matrix(1 0 0 1.18 297.70 269.60)" font-size="19.5" font-family="Liberation Serif, Times New Roman, serif">Λ</text><text x="311.80" y="279.10" font-size="16.5" font-family="Liberation Serif, Times New Roman, serif">0</text><text x="319.75" y="270.90" font-size="21" font-family="Liberation Serif, Times New Roman, serif">=</text><text x="331.00" y="269.60" font-size="20" font-family="Liberation Serif, Times New Roman, serif">0.3 <tspan font-style="italic" dx="1.3">ω</tspan><tspan font-size="16.5" dy="9.5">0</tspan></text>
<path d="M255.80 299.50 L294.60 299.50" fill="none" stroke="#bf00bf" stroke-width="2.90" stroke-dasharray="9.6 8.8" stroke-linejoin="miter" stroke-linecap="butt"/>
<path d="M271.40 299.50h7.6M275.20 295.70v7.6" fill="none" stroke="#bf00bf" stroke-width="2.40"/>
<text transform="matrix(1 0 0 1.18 297.70 303.10)" font-size="19.5" font-family="Liberation Serif, Times New Roman, serif">Λ</text><text x="311.80" y="312.60" font-size="16.5" font-family="Liberation Serif, Times New Roman, serif">0</text><text x="319.75" y="304.40" font-size="21" font-family="Liberation Serif, Times New Roman, serif">=</text><text x="331.00" y="303.10" font-size="20" font-family="Liberation Serif, Times New Roman, serif">0.4 <tspan font-style="italic" dx="1.3">ω</tspan><tspan font-size="16.5" dy="9.5">0</tspan></text>
<path d="M255.80 333.00 L294.60 333.00" fill="none" stroke="#000000" stroke-width="2.90" stroke-linejoin="miter" stroke-linecap="butt"/>
<text transform="matrix(1 0 0 1.18 297.70 336.60)" font-size="19.5" font-family="Liberation Serif, Times New Roman, serif">Λ</text><text x="311.80" y="346.10" font-size="16.5" font-family="Liberation Serif, Times New Roman, serif">0</text><text x="319.75" y="337.90" font-size="21" font-family="Liberation Serif, Times New Roman, serif">=</text><text x="331.00" y="336.60" font-size="20" font-family="Liberation Serif, Times New Roman, serif">0.5 <tspan font-style="italic" dx="1.3">ω</tspan><tspan font-size="16.5" dy="9.5">0</tspan></text>

<path d="M523.90 473.20 L562.70 473.20" fill="none" stroke="#0000ff" stroke-width="2.90" stroke-dasharray="9.6 8.8" stroke-linejoin="miter" stroke-linecap="butt"/>
<text transform="matrix(1 0 0 1.18 566.40 476.80)" font-size="19.5" font-family="Liberation Serif, Times New Roman, serif">Λ</text><text x="580.50" y="486.30" font-size="16.5" font-family="Liberation Serif, Times New Roman, serif">0</text><text x="588.45" y="478.10" font-size="21" font-family="Liberation Serif, Times New Roman, serif">=</text><text x="599.70" y="476.80" font-size="20" font-family="Liberation Serif, Times New Roman, serif">0.01 <tspan font-style="italic" dx="1.3">ω</tspan><tspan font-size="16.5" dy="9.5">0</tspan></text>
<path d="M523.90 506.70 L562.70 506.70" fill="none" stroke="#00ffff" stroke-width="2.90" stroke-dasharray="3 1.6" stroke-linejoin="miter" stroke-linecap="butt"/>
<text transform="matrix(1 0 0 1.18 566.40 510.30)" font-size="19.5" font-family="Liberation Serif, Times New Roman, serif">Λ</text><text x="580.50" y="519.80" font-size="16.5" font-family="Liberation Serif, Times New Roman, serif">0</text><text x="588.45" y="511.60" font-size="21" font-family="Liberation Serif, Times New Roman, serif">=</text><text x="599.70" y="510.30" font-size="20" font-family="Liberation Serif, Times New Roman, serif">0.1 <tspan font-style="italic" dx="1.3">ω</tspan><tspan font-size="16.5" dy="9.5">0</tspan></text>
<path d="M523.90 540.20 L562.70 540.20" fill="none" stroke="#ff0000" stroke-width="2.90" stroke-dasharray="9.4 2.2 4.8 2.0" stroke-linejoin="miter" stroke-linecap="butt"/>
<text transform="matrix(1 0 0 1.18 566.40 543.80)" font-size="19.5" font-family="Liberation Serif, Times New Roman, serif">Λ</text><text x="580.50" y="553.30" font-size="16.5" font-family="Liberation Serif, Times New Roman, serif">0</text><text x="588.45" y="545.10" font-size="21" font-family="Liberation Serif, Times New Roman, serif">=</text><text x="599.70" y="543.80" font-size="20" font-family="Liberation Serif, Times New Roman, serif">0.2 <tspan font-style="italic" dx="1.3">ω</tspan><tspan font-size="16.5" dy="9.5">0</tspan></text>
<path d="M523.90 573.70 L562.70 573.70" fill="none" stroke="#007f00" stroke-width="2.90" stroke-linejoin="miter" stroke-linecap="butt"/>
<text transform="matrix(1 0 0 1.18 566.40 577.30)" font-size="19.5" font-family="Liberation Serif, Times New Roman, serif">Λ</text><text x="580.50" y="586.80" font-size="16.5" font-family="Liberation Serif, Times New Roman, serif">0</text><text x="588.45" y="578.60" font-size="21" font-family="Liberation Serif, Times New Roman, serif">=</text><text x="599.70" y="577.30" font-size="20" font-family="Liberation Serif, Times New Roman, serif">0.3 <tspan font-style="italic" dx="1.3">ω</tspan><tspan font-size="16.5" dy="9.5">0</tspan></text>
<path d="M523.90 607.20 L562.70 607.20" fill="none" stroke="#bf00bf" stroke-width="2.90" stroke-dasharray="9.6 8.8" stroke-linejoin="miter" stroke-linecap="butt"/>
<path d="M540.70 607.20h5.2M543.30 604.60v5.2" fill="none" stroke="#bf00bf" stroke-width="2.40"/>
<text transform="matrix(1 0 0 1.18 566.40 610.80)" font-size="19.5" font-family="Liberation Serif, Times New Roman, serif">Λ</text><text x="580.50" y="620.30" font-size="16.5" font-family="Liberation Serif, Times New Roman, serif">0</text><text x="588.45" y="612.10" font-size="21" font-family="Liberation Serif, Times New Roman, serif">=</text><text x="599.70" y="610.80" font-size="20" font-family="Liberation Serif, Times New Roman, serif">0.4 <tspan font-style="italic" dx="1.3">ω</tspan><tspan font-size="16.5" dy="9.5">0</tspan></text>
<path d="M523.90 640.70 L562.70 640.70" fill="none" stroke="#000000" stroke-width="2.90" stroke-linejoin="miter" stroke-linecap="butt"/>
<circle cx="543.30" cy="640.70" r="2.0" fill="#000"/>
<text transform="matrix(1 0 0 1.18 566.40 644.30)" font-size="19.5" font-family="Liberation Serif, Times New Roman, serif">Λ</text><text x="580.50" y="653.80" font-size="16.5" font-family="Liberation Serif, Times New Roman, serif">0</text><text x="588.45" y="645.60" font-size="21" font-family="Liberation Serif, Times New Roman, serif">=</text><text x="599.70" y="644.30" font-size="20" font-family="Liberation Serif, Times New Roman, serif">0.5 <tspan font-style="italic" dx="1.3">ω</tspan><tspan font-size="16.5" dy="9.5">0</tspan></text>

</svg>
</body></html>
